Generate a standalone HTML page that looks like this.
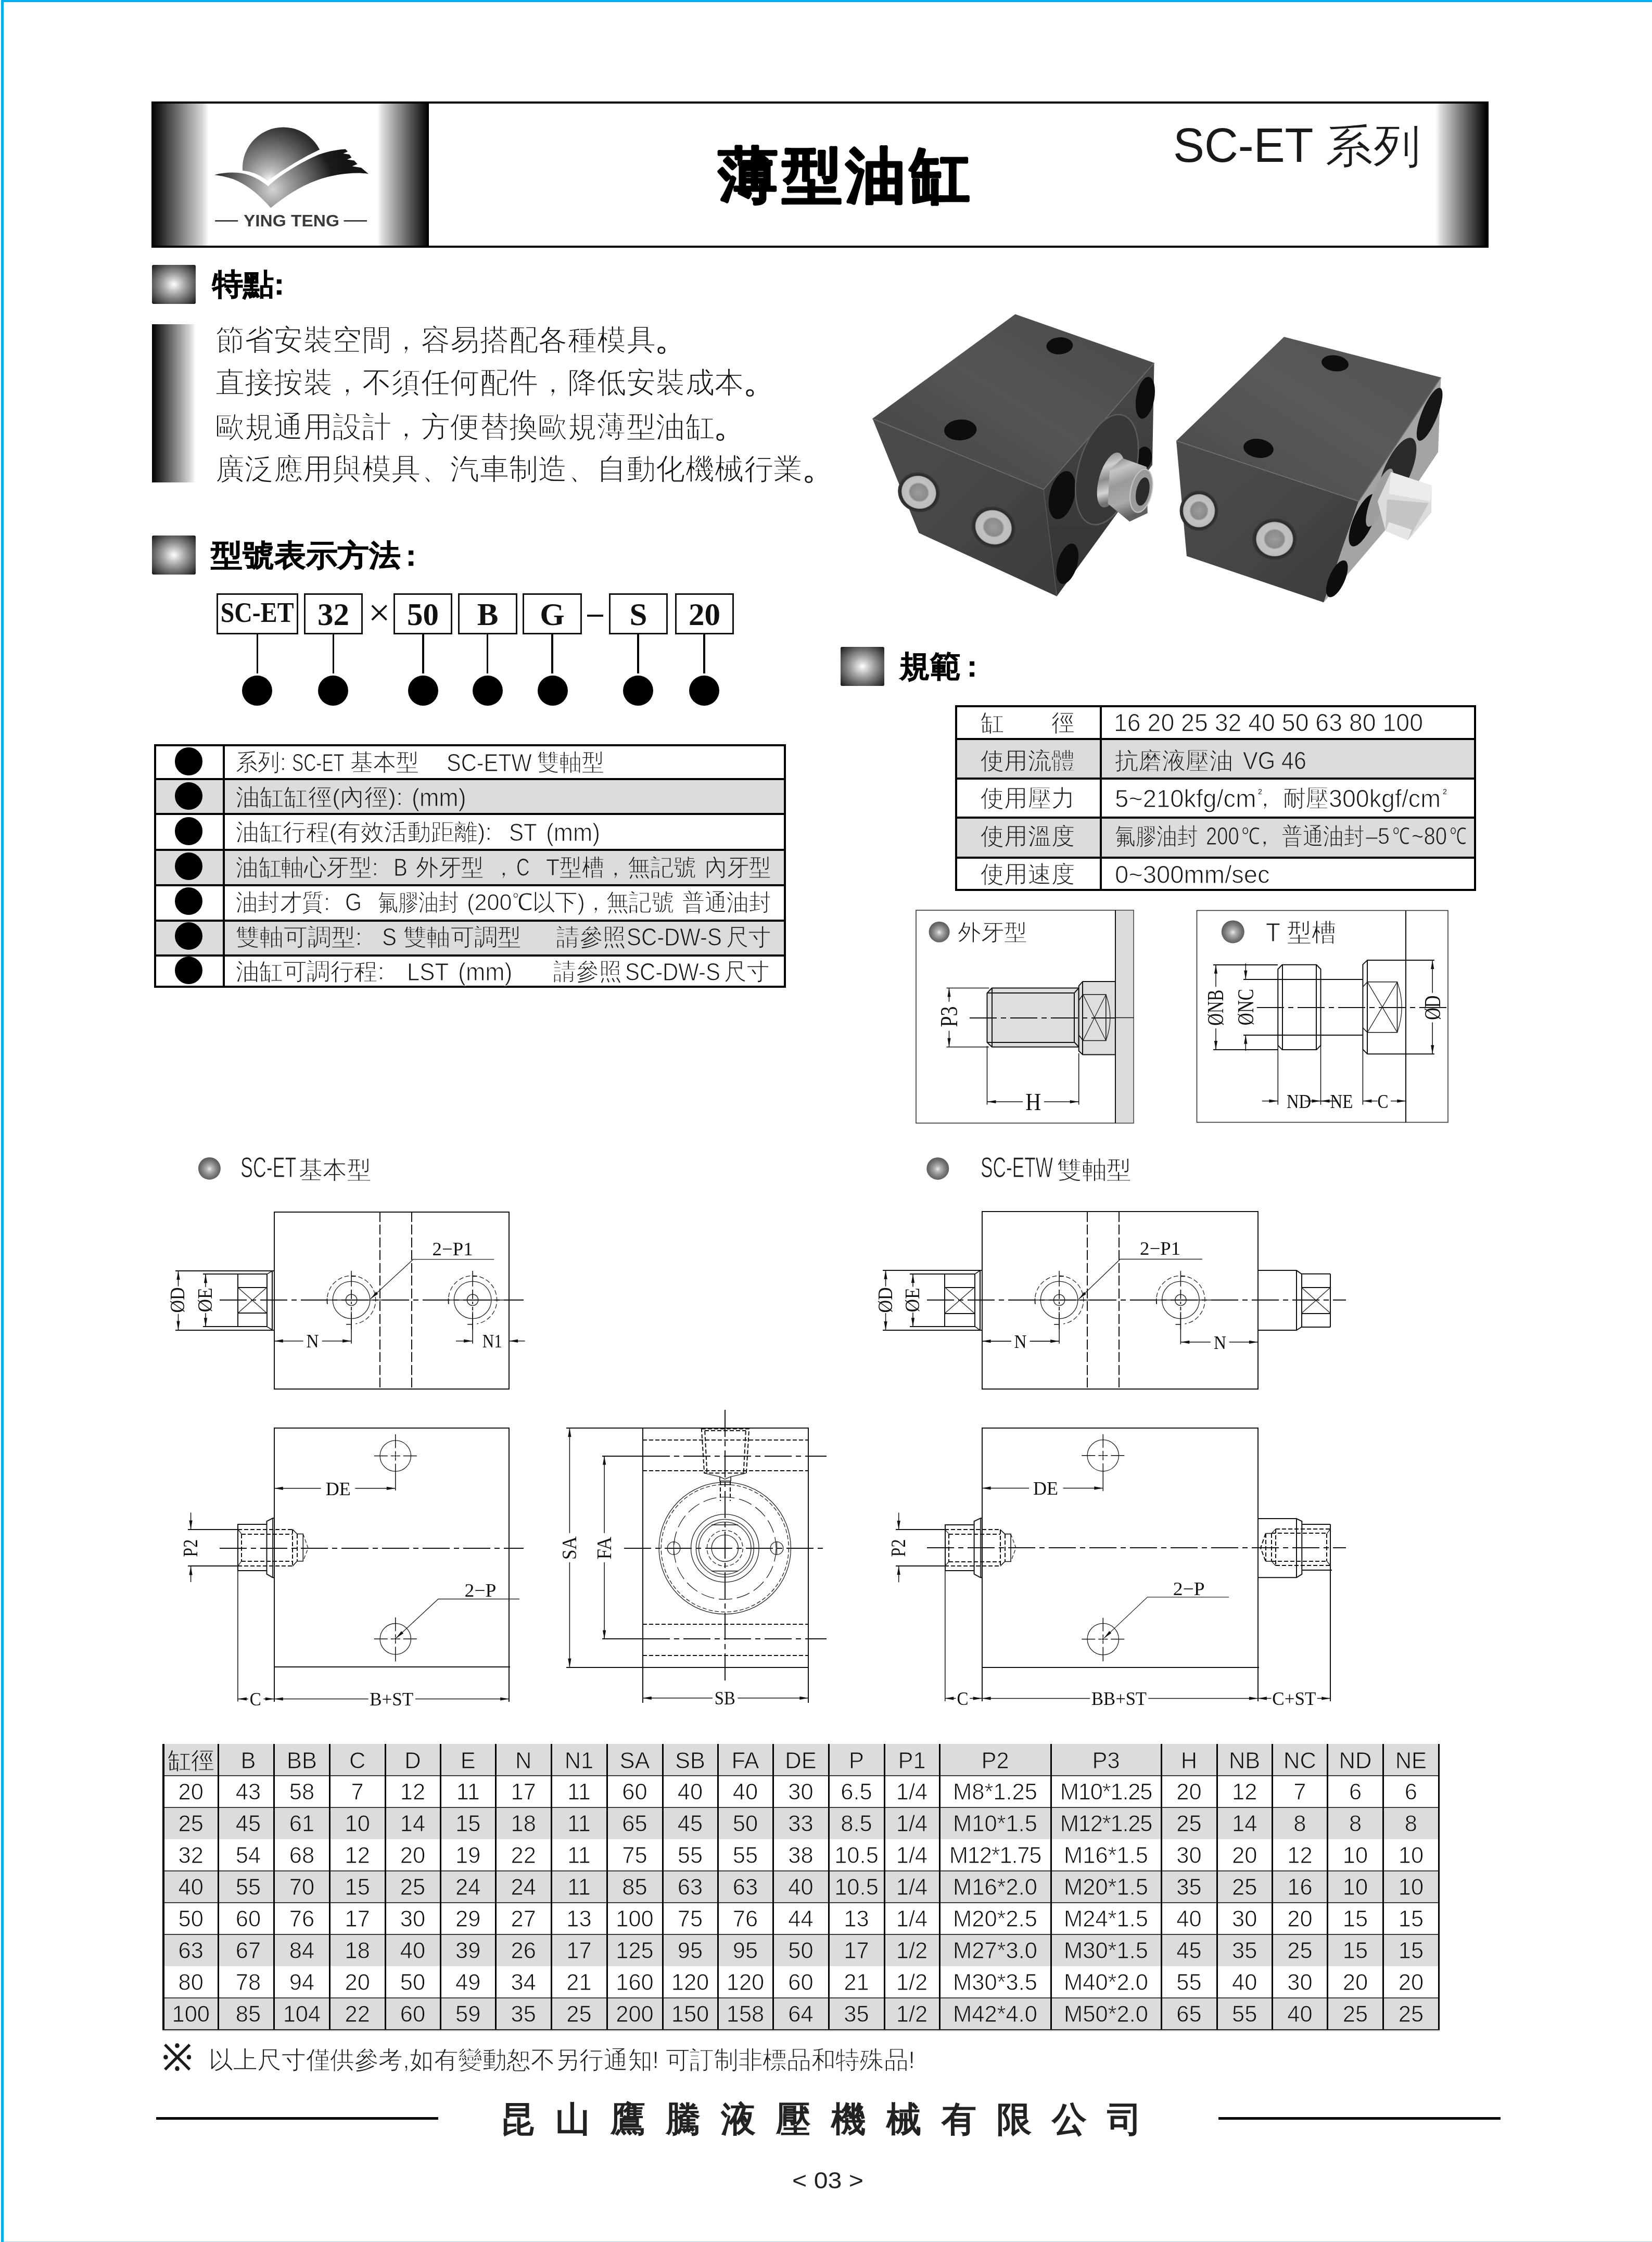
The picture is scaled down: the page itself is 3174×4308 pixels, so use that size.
<!DOCTYPE html>
<html lang="zh-Hant">
<head>
<meta charset="utf-8">
<title>SC-ET 薄型油缸</title>
<style>
html,body{margin:0;padding:0;}
body{width:3174px;height:4308px;position:relative;background:#fff;overflow:hidden;will-change:transform;font-family:"Liberation Sans",sans-serif;color:#1a1a1a;}
.a{position:absolute;white-space:nowrap;}
.lt{-webkit-text-stroke:1px #fff;}
.ltg{-webkit-text-stroke:1px #dcdcdc;}
.cx{display:inline-block;transform-origin:0 50%;}
.cyl{background:#00aeef;}
svg{position:absolute;left:0;top:0;overflow:visible;}
/* header */
#hdr{left:291px;top:195px;width:2569px;height:273px;border-top:4px solid #000;border-bottom:4px solid #000;}
#logo{left:291px;top:199px;width:533px;height:273px;background:linear-gradient(90deg,#000 0,#d9d9d9 18.5%,#fff 20.6%,#fff 81.4%,#d9d9d9 83.4%,#000 100%);}
#hgr{left:2758px;top:199px;width:102px;height:273px;background:linear-gradient(90deg,#fff 0,#d9d9d9 10%,#000 97%,#000 100%);}
#title{left:1372px;top:255px;font-size:122px;line-height:160px;font-weight:900;color:#000;-webkit-text-stroke:4px #000;}
#series{left:2256px;top:225px;font-size:94px;line-height:110px;color:#1a1a1a;}
.sec{width:84px;height:75px;border-radius:3px;background:radial-gradient(ellipse 60px 54px at 50% 50%,#fff 0,#ededed 7%,#a9a9a9 34%,#5c5c5c 68%,#2a2a2a 90%,#0c0c0c 100%);}
.sh{font-weight:900;color:#000;-webkit-text-stroke:.7px #000;}
#fbar{left:292px;top:623px;width:84px;height:304px;background:linear-gradient(90deg,#000 0,#d9d9d9 88%,#fff 100%);}
.ft{left:413.5px;font-size:56px;line-height:82px;letter-spacing:.45px;color:#111;-webkit-text-stroke:1.3px #fff;}
/* model boxes */
.mb{box-sizing:border-box;border:3px solid #111;height:79px;top:1140px;text-align:center;font-family:"Liberation Serif",serif;font-weight:700;font-size:61px;line-height:75px;color:#111;}
.ml{width:3.4px;background:#000;top:1218px;height:76px;}
.dot{width:58px;height:58px;border-radius:50%;background:#000;top:1298px;}
/* table 1 */
.t1r{left:298px;width:1210px;box-sizing:border-box;border-top:4px solid #000;}
.t1t{left:452px;font-size:45px;line-height:60px;color:#111;}
.t1d{left:335.5px;width:53px;height:53px;border-radius:50%;background:#000;}
/* spec table */
.t2t{font-size:45px;line-height:60px;color:#111;}
</style>
</head>
<body>
<!-- page border -->
<div class="a cyl" style="left:2px;top:0;width:5px;height:4308px"></div>
<div class="a cyl" style="left:2px;top:0;width:3172px;height:4px"></div>
<div class="a" style="left:7px;top:4307px;width:3167px;height:1px;background:#8fd9f7"></div>

<!-- header -->
<div class="a" id="hdr"></div>
<div class="a" id="logo"></div>
<div class="a" id="hgr"></div>
<svg width="3174" height="4308" viewBox="0 0 3174 4308"><text x="1380" y="376.5" font-size="115" font-weight="700" letter-spacing="7.5" fill="#000" stroke="#000" stroke-width="3.5" stroke-linejoin="round" style="font-family:'Liberation Sans',sans-serif">薄型油缸</text></svg>

<!-- features -->
<div class="a sec" style="left:292px;top:509px"></div>
<div class="a" id="fbar"></div>
<div class="a ft" style="top:612px">節省安裝空間，容易搭配各種模具<span style="-webkit-text-stroke:0.2px #111;font-size:66px;line-height:0;position:relative;left:-3px;top:1px">。</span></div>
<div class="a ft" style="top:694px">直接按裝，不須任何配件，降低安裝成本<span style="-webkit-text-stroke:0.2px #111;font-size:66px;line-height:0;position:relative;left:-3px;top:1px">。</span></div>
<div class="a ft" style="top:778.5px">歐規通用設計，方便替換歐規薄型油缸<span style="-webkit-text-stroke:0.2px #111;font-size:66px;line-height:0;position:relative;left:-3px;top:1px">。</span></div>
<div class="a ft" style="top:860px">廣泛應用與模具、汽車制造、自動化機械行業<span style="-webkit-text-stroke:0.2px #111;font-size:66px;line-height:0;position:relative;left:-3px;top:1px">。</span></div>

<!-- model designation -->
<div class="a sec" style="left:292px;top:1029px"></div>
<div class="a mb" style="left:416px;width:157px;font-size:54px;line-height:66px"><span class="cx" style="transform:scaleX(.885);transform-origin:48% 50%;position:relative;left:-4.5px;top:.5px">SC-ET</span></div>
<div class="a mb" style="left:584px;width:113px">32</div>
<div class="a" style="left:707.5px;top:1142px;font-family:'Liberation Serif',serif;font-size:75px;line-height:70px;color:#111">×</div>
<div class="a mb" style="left:756px;width:113px">50</div>
<div class="a mb" style="left:880px;width:114px">B</div>
<div class="a mb" style="left:1004px;width:114px">G</div>
<div class="a" style="left:1128px;top:1181px;width:31px;height:3.5px;background:#111"></div>
<div class="a mb" style="left:1170px;width:113px">S</div>
<div class="a mb" style="left:1297px;width:113px">20</div>
<div class="a ml" style="left:492.7px"></div><div class="a dot" style="left:465.4px"></div>
<div class="a ml" style="left:638.5px"></div><div class="a dot" style="left:611.4px"></div>
<div class="a ml" style="left:811.3px"></div><div class="a dot" style="left:784.3px"></div>
<div class="a ml" style="left:935px"></div><div class="a dot" style="left:908.3px"></div>
<div class="a ml" style="left:1059.2px"></div><div class="a dot" style="left:1032.6px"></div>
<div class="a ml" style="left:1224.3px"></div><div class="a dot" style="left:1197px"></div>
<div class="a ml" style="left:1351.2px"></div><div class="a dot" style="left:1323.9px"></div>

<!-- p0_heads.py -->
<span class="a sh" style="left:408.0px;top:509.2px;font-size:57.5px;line-height:75px;transform:scaleX(1.0210);transform-origin:0 50%;">特點:</span><span class="a sh" style="left:405.2px;top:1029.2px;font-size:58px;line-height:75px;transform:scaleX(1.0491);transform-origin:0 50%;">型號表示方法<span style="margin-left:9px">:</span></span><span class="a sh" style="left:1728.0px;top:1241.7px;font-size:58px;line-height:75px;transform:scaleX(1.0217);transform-origin:0 50%;">規範<span style="margin-left:11px">:</span></span>
<!-- p0_series.py -->
<span class="a " style="left:2253.5px;top:219.2px;font-size:92px;line-height:120px;transform:scaleX(0.9764);transform-origin:0 50%;">SC-ET</span><span class="a lt" style="left:2546.0px;top:223.6px;font-size:88px;line-height:114px;transform:scaleX(1.0455);transform-origin:0 50%;">系列</span>
<!-- p2_tables.py -->
<div class="a" style="left:296px;top:1430px;width:1214px;height:468px;box-sizing:border-box;border:4px solid #000"></div>
<div class="a" style="left:300px;top:1497.0px;width:1206px;height:67.0px;background:#dcdcdc"></div>
<div class="a" style="left:300px;top:1632.5px;width:1206px;height:68.1px;background:#dcdcdc"></div>
<div class="a" style="left:300px;top:1769.0px;width:1206px;height:67.0px;background:#dcdcdc"></div>
<div class="a" style="left:298px;top:1495.0px;width:1210px;height:4px;background:#000"></div>
<div class="a" style="left:298px;top:1562.0px;width:1210px;height:4px;background:#000"></div>
<div class="a" style="left:298px;top:1630.5px;width:1210px;height:4px;background:#000"></div>
<div class="a" style="left:298px;top:1698.6px;width:1210px;height:4px;background:#000"></div>
<div class="a" style="left:298px;top:1767.0px;width:1210px;height:4px;background:#000"></div>
<div class="a" style="left:298px;top:1834.0px;width:1210px;height:4px;background:#000"></div>
<div class="a" style="left:428px;top:1432px;width:4px;height:464px;background:#000"></div>
<div class="a" style="left:335.7px;top:1436.4px;width:53.2px;height:53.2px;border-radius:50%;background:#000"></div>
<div class="a" style="left:335.7px;top:1503.0px;width:53.2px;height:53.2px;border-radius:50%;background:#000"></div>
<div class="a" style="left:335.7px;top:1570.4px;width:53.2px;height:53.2px;border-radius:50%;background:#000"></div>
<div class="a" style="left:335.7px;top:1637.6px;width:53.2px;height:53.2px;border-radius:50%;background:#000"></div>
<div class="a" style="left:335.7px;top:1704.8px;width:53.2px;height:53.2px;border-radius:50%;background:#000"></div>
<div class="a" style="left:335.7px;top:1771.7px;width:53.2px;height:53.2px;border-radius:50%;background:#000"></div>
<div class="a" style="left:335.7px;top:1838.3px;width:53.2px;height:53.2px;border-radius:50%;background:#000"></div>
<span class="a lt" style="left:452.6px;top:1436.3px;font-size:45px;line-height:58px;transform:scaleX(0.9442);transform-origin:0 50%;">系列:</span>
<span class="a lt" style="left:561.0px;top:1434.9px;font-size:47.2px;line-height:61px;transform:scaleX(0.7064);transform-origin:0 50%;">SC-ET</span>
<span class="a lt" style="left:673.0px;top:1436.3px;font-size:45px;line-height:58px;transform:scaleX(0.9778);transform-origin:0 50%;">基本型</span>
<span class="a lt" style="left:857.8px;top:1434.9px;font-size:47.2px;line-height:61px;transform:scaleX(0.8796);transform-origin:0 50%;">SC-ETW</span>
<span class="a lt" style="left:1031.7px;top:1436.3px;font-size:45px;line-height:58px;transform:scaleX(0.9563);transform-origin:0 50%;">雙軸型</span>
<span class="a ltg" style="left:452.6px;top:1502.9px;font-size:45px;line-height:58px;transform:scaleX(1.0273);transform-origin:0 50%;">油缸缸徑(內徑):</span>
<span class="a ltg" style="left:791.0px;top:1501.5px;font-size:47.2px;line-height:61px;transform:scaleX(0.9505);transform-origin:0 50%;">(mm)</span>
<span class="a lt" style="left:452.6px;top:1570.3px;font-size:45px;line-height:58px;">油缸行程(有效活動距離):</span>
<span class="a lt" style="left:978.0px;top:1568.9px;font-size:47.2px;line-height:61px;transform:scaleX(0.8904);transform-origin:0 50%;">ST</span>
<span class="a lt" style="left:1049.0px;top:1568.9px;font-size:47.2px;line-height:61px;transform:scaleX(0.9451);transform-origin:0 50%;">(mm)</span>
<span class="a ltg" style="left:452.6px;top:1637.5px;font-size:45px;line-height:58px;transform:scaleX(0.9691);transform-origin:0 50%;">油缸軸心牙型:</span>
<span class="a ltg" style="left:756.0px;top:1636.1px;font-size:47.2px;line-height:61px;transform:scaleX(0.8576);transform-origin:0 50%;">B</span>
<span class="a ltg" style="left:798.8px;top:1637.5px;font-size:45px;line-height:58px;transform:scaleX(0.9674);transform-origin:0 50%;">外牙型</span>
<span class="a ltg" style="left:945.0px;top:1637.5px;font-size:45px;line-height:58px;">，</span>
<span class="a ltg" style="left:992.0px;top:1636.1px;font-size:47.2px;line-height:61px;transform:scaleX(0.7512);transform-origin:0 50%;">C</span>
<span class="a ltg" style="left:1049.0px;top:1637.5px;font-size:45px;line-height:58px;transform:scaleX(0.9515);transform-origin:0 50%;">T型槽</span>
<span class="a ltg" style="left:1160.0px;top:1637.5px;font-size:45px;line-height:58px;">，</span>
<span class="a ltg" style="left:1206.0px;top:1637.5px;font-size:45px;line-height:58px;transform:scaleX(0.9763);transform-origin:0 50%;">無記號</span>
<span class="a ltg" style="left:1354.0px;top:1637.5px;font-size:45px;line-height:58px;transform:scaleX(0.9467);transform-origin:0 50%;">內牙型</span>
<span class="a lt" style="left:452.6px;top:1704.8px;font-size:45px;line-height:58px;transform:scaleX(0.9402);transform-origin:0 50%;">油封才質:</span>
<span class="a lt" style="left:663.0px;top:1703.3px;font-size:47.2px;line-height:61px;transform:scaleX(0.8715);transform-origin:0 50%;">G</span>
<span class="a lt" style="left:726.0px;top:1704.8px;font-size:45px;line-height:58px;transform:scaleX(0.8667);transform-origin:0 50%;">氟膠油封</span>
<span class="a lt" style="left:897.0px;top:1704.8px;font-size:45px;line-height:58px;transform:scaleX(0.9608);transform-origin:0 50%;">(200℃以下)</span>
<span class="a lt" style="left:1122.0px;top:1704.8px;font-size:45px;line-height:58px;">，</span>
<span class="a lt" style="left:1164.7px;top:1704.8px;font-size:45px;line-height:58px;transform:scaleX(0.9652);transform-origin:0 50%;">無記號</span>
<span class="a lt" style="left:1311.0px;top:1704.8px;font-size:45px;line-height:58px;transform:scaleX(0.9489);transform-origin:0 50%;">普通油封</span>
<span class="a ltg" style="left:452.6px;top:1771.6px;font-size:45px;line-height:58px;transform:scaleX(1.0206);transform-origin:0 50%;">雙軸可調型:</span>
<span class="a ltg" style="left:734.0px;top:1770.2px;font-size:47.2px;line-height:61px;transform:scaleX(0.8893);transform-origin:0 50%;">S</span>
<span class="a ltg" style="left:775.0px;top:1771.6px;font-size:45px;line-height:58px;transform:scaleX(1.0080);transform-origin:0 50%;">雙軸可調型</span>
<span class="a ltg" style="left:1068.7px;top:1771.6px;font-size:45px;line-height:58px;transform:scaleX(0.9911);transform-origin:0 50%;">請參照</span>
<span class="a ltg" style="left:1204.0px;top:1770.2px;font-size:47.2px;line-height:61px;transform:scaleX(0.8874);transform-origin:0 50%;">SC-DW-S</span>
<span class="a ltg" style="left:1395.0px;top:1771.6px;font-size:45px;line-height:58px;transform:scaleX(0.9644);transform-origin:0 50%;">尺寸</span>
<span class="a lt" style="left:452.6px;top:1838.2px;font-size:45px;line-height:58px;transform:scaleX(1.0102);transform-origin:0 50%;">油缸可調行程:</span>
<span class="a lt" style="left:781.5px;top:1836.8px;font-size:47.2px;line-height:61px;transform:scaleX(0.9267);transform-origin:0 50%;">LST</span>
<span class="a lt" style="left:880.0px;top:1836.8px;font-size:47.2px;line-height:61px;transform:scaleX(0.9496);transform-origin:0 50%;">(mm)</span>
<span class="a lt" style="left:1063.0px;top:1838.2px;font-size:45px;line-height:58px;transform:scaleX(0.9748);transform-origin:0 50%;">請參照</span>
<span class="a lt" style="left:1201.0px;top:1836.8px;font-size:47.2px;line-height:61px;transform:scaleX(0.8874);transform-origin:0 50%;">SC-DW-S</span>
<span class="a lt" style="left:1391.0px;top:1838.2px;font-size:45px;line-height:58px;transform:scaleX(0.9667);transform-origin:0 50%;">尺寸</span>
<div class="a sec" style="left:1615px;top:1243px"></div>
<div class="a" style="left:1835px;top:1355px;width:1001px;height:356.5px;box-sizing:border-box;border:4px solid #000"></div>
<div class="a" style="left:1839px;top:1419.6px;width:993px;height:76.3px;background:#dcdcdc"></div>
<div class="a" style="left:1839px;top:1571.4px;width:993px;height:76.3px;background:#dcdcdc"></div>
<div class="a" style="left:1837px;top:1417.6px;width:997px;height:4px;background:#000"></div>
<div class="a" style="left:1837px;top:1493.9px;width:997px;height:4px;background:#000"></div>
<div class="a" style="left:1837px;top:1569.4px;width:997px;height:4px;background:#000"></div>
<div class="a" style="left:1837px;top:1645.7px;width:997px;height:4px;background:#000"></div>
<div class="a" style="left:2112.7px;top:1357px;width:4px;height:352px;background:#000"></div>
<span class="a lt" style="left:1884.0px;top:1359.6px;font-size:45px;line-height:58px;">缸</span>
<span class="a lt" style="left:2020.0px;top:1359.6px;font-size:45px;line-height:58px;">徑</span>
<span class="a ltg" style="left:1884.0px;top:1432.6px;font-size:45px;line-height:58px;transform:scaleX(1.0056);transform-origin:0 50%;">使用流體</span>
<span class="a lt" style="left:1884.0px;top:1505.3px;font-size:45px;line-height:58px;transform:scaleX(1.0056);transform-origin:0 50%;">使用壓力</span>
<span class="a ltg" style="left:1884.0px;top:1577.6px;font-size:45px;line-height:58px;transform:scaleX(1.0056);transform-origin:0 50%;">使用溫度</span>
<span class="a lt" style="left:1884.0px;top:1650.9px;font-size:45px;line-height:58px;transform:scaleX(1.0056);transform-origin:0 50%;">使用速度</span>
<span class="a lt" style="left:2139.5px;top:1358.2px;font-size:47.2px;line-height:61px;transform:scaleX(0.9842);transform-origin:0 50%;">16 20 25 32 40 50 63 80 100</span>
<span class="a ltg" style="left:2142.0px;top:1432.6px;font-size:45px;line-height:58px;transform:scaleX(1.0089);transform-origin:0 50%;">抗磨液壓油</span>
<span class="a ltg" style="left:2387.5px;top:1431.2px;font-size:47.2px;line-height:61px;transform:scaleX(0.9112);transform-origin:0 50%;">VG 46</span>
<span class="a lt" style="left:2142.0px;top:1503.9px;font-size:47.2px;line-height:61px;">5~210kfg/cm</span>
<span class="a " style="left:2417.0px;top:1512.4px;font-size:14px;line-height:18px;transform:scaleX(1.0261);transform-origin:0 50%;">2</span>
<span class="a lt" style="left:2408.0px;top:1505.3px;font-size:45px;line-height:58px;">，</span>
<span class="a lt" style="left:2464.8px;top:1505.3px;font-size:45px;line-height:58px;transform:scaleX(0.9800);transform-origin:0 50%;">耐壓</span>
<span class="a lt" style="left:2553.0px;top:1503.9px;font-size:47.2px;line-height:61px;transform:scaleX(0.9876);transform-origin:0 50%;">300kgf/cm</span>
<span class="a " style="left:2771.5px;top:1512.4px;font-size:14px;line-height:18px;transform:scaleX(1.0261);transform-origin:0 50%;">2</span>
<span class="a ltg" style="left:2142.0px;top:1577.6px;font-size:45px;line-height:58px;transform:scaleX(0.8861);transform-origin:0 50%;">氟膠油封</span>
<span class="a ltg" style="left:2317.0px;top:1576.2px;font-size:47.2px;line-height:61px;transform:scaleX(0.8078);transform-origin:0 50%;">200</span>
<span class="a ltg" style="left:2385.0px;top:1577.6px;font-size:45px;line-height:58px;transform:scaleX(0.8000);transform-origin:0 50%;">℃</span>
<span class="a ltg" style="left:2407.0px;top:1577.6px;font-size:45px;line-height:58px;">，</span>
<span class="a ltg" style="left:2463.4px;top:1577.6px;font-size:45px;line-height:58px;transform:scaleX(0.8811);transform-origin:0 50%;">普通油封</span>
<span class="a ltg" style="left:2624.4px;top:1577.6px;font-size:45px;line-height:58px;transform:scaleX(0.9208);transform-origin:0 50%;">–5</span>
<span class="a ltg" style="left:2675.0px;top:1577.6px;font-size:45px;line-height:58px;transform:scaleX(0.7556);transform-origin:0 50%;">℃</span>
<span class="a ltg" style="left:2711.9px;top:1576.2px;font-size:47.2px;line-height:61px;transform:scaleX(0.8508);transform-origin:0 50%;">~80</span>
<span class="a ltg" style="left:2785.0px;top:1577.6px;font-size:45px;line-height:58px;transform:scaleX(0.7333);transform-origin:0 50%;">℃</span>
<span class="a lt" style="left:2142.0px;top:1649.5px;font-size:47.2px;line-height:61px;">0~300mm/sec</span>
<!-- p3_logo.py -->
<svg width="3174" height="4308" viewBox="0 0 3174 4308" style="pointer-events:none">
<defs>
<radialGradient id="gSph" gradientUnits="userSpaceOnUse" cx="610" cy="600" r="560">
<stop offset="0" stop-color="#f6f6f6"/><stop offset=".18" stop-color="#bdbdbf"/><stop offset=".45" stop-color="#88888a"/><stop offset=".75" stop-color="#545456"/><stop offset="1" stop-color="#2c2c2c"/>
</radialGradient>
<radialGradient id="gWing" gradientUnits="userSpaceOnUse" cx="640" cy="690" r="760">
<stop offset="0" stop-color="#d4d4d6"/><stop offset=".2" stop-color="#a2a2a5"/><stop offset=".45" stop-color="#6e6e71"/><stop offset=".68" stop-color="#3a3a3c"/><stop offset=".8" stop-color="#1c1a1b"/><stop offset="1" stop-color="#151314"/>
</radialGradient>
<clipPath id="cSph"><path d="M342,505 Q470,515 590,607 Q850,415 1128,285 L1250,0 L250,0 Z"/></clipPath>
</defs>
<g transform="translate(400,230) scale(0.19370)">
<circle cx="745" cy="480" r="405" fill="url(#gSph)" clip-path="url(#cSph)"/>
<path fill="url(#gWing)" d="M60,548 C170,518 300,515 400,548 C480,575 545,620 595,660 C700,560 900,430 1100,345 C1200,310 1290,297 1360,292 L1385,315 L1340,335 L1400,345 L1422,375 L1378,395 L1448,405 L1480,440 L1428,462 L1518,476 L1590,537 C1450,515 1250,540 1080,600 C900,665 750,770 620,875 C520,760 400,650 250,590 C180,565 110,552 60,548 Z"/>
</g>
<rect x="413.2" y="423" width="44" height="2.8" fill="#3a3a3c"/>
<rect x="660.5" y="423" width="44.5" height="2.8" fill="#3a3a3c"/>
</svg>
<span class="a " style="left:467.8px;top:404.6px;font-size:31px;line-height:40px;transform:scaleX(1.0791);transform-origin:0 50%;font-weight:700;color:#3a3a3c;">YING TENG</span>
<!-- p4_photo.py -->
<svg width="3174" height="4308" viewBox="0 0 3174 4308" style="pointer-events:none">
<defs>
<linearGradient id="pTop" x1="0" y1="1" x2="1" y2="0"><stop offset="0" stop-color="#444"/><stop offset=".5" stop-color="#545454"/><stop offset="1" stop-color="#4a4a4a"/></linearGradient>
<linearGradient id="pTop2" x1="0" y1="1" x2="1" y2="0"><stop offset="0" stop-color="#484848"/><stop offset=".55" stop-color="#5a5a5a"/><stop offset="1" stop-color="#525252"/></linearGradient>
<linearGradient id="pFr" x1="0" y1="0" x2="1" y2="1"><stop offset="0" stop-color="#4c4c4c"/><stop offset=".6" stop-color="#444"/><stop offset="1" stop-color="#3b3b3b"/></linearGradient>
<linearGradient id="pRt" x1="0" y1="0" x2="0" y2="1"><stop offset="0" stop-color="#484848"/><stop offset="1" stop-color="#333"/></linearGradient>
<linearGradient id="pRod" x1="0" y1="0" x2="0.25" y2="1"><stop offset="0" stop-color="#6e6e6e"/><stop offset=".22" stop-color="#c6c6c6"/><stop offset=".45" stop-color="#9a9a9a"/><stop offset=".75" stop-color="#aaa"/><stop offset="1" stop-color="#5e5e5e"/></linearGradient>
<linearGradient id="pCol" x1="0" y1="0" x2="0.25" y2="1"><stop offset="0" stop-color="#7a7a7a"/><stop offset=".3" stop-color="#cfcfcf"/><stop offset=".55" stop-color="#8c8c8c"/><stop offset=".8" stop-color="#d4d4d4"/><stop offset="1" stop-color="#707070"/></linearGradient>
<radialGradient id="pPort"><stop offset="0" stop-color="#9c9c9c"/><stop offset=".42" stop-color="#8a8a8a"/><stop offset=".5" stop-color="#c2c2c2"/><stop offset=".8" stop-color="#bcbcbc"/><stop offset=".85" stop-color="#2a2a2a"/><stop offset="1" stop-color="#383838"/></radialGradient>
<filter id="pBl" x="-5%" y="-5%" width="110%" height="110%"><feGaussianBlur stdDeviation="2"/></filter>
<filter id="pBl2" x="-5%" y="-5%" width="110%" height="110%"><feGaussianBlur stdDeviation="0.8"/></filter>
</defs>
<!-- left block -->
<g transform="translate(1660,590) scale(0.36320)" filter="url(#pBl)">
<polygon points="45,590 950,965 1020,1530 290,1195" fill="url(#pFr)"/>
<polygon points="950,965 1535,295 1525,835 1020,1530" fill="url(#pRt)"/>
<polygon points="800,38 1535,295 950,965 45,590" fill="url(#pTop)"/>
<polyline points="45,590 950,965 1535,295" fill="none" stroke="#6c6c6c" stroke-width="5"/>
<line x1="950" y1="965" x2="1020" y2="1530" stroke="#5a5a5a" stroke-width="4"/>
<ellipse cx="1035" cy="205" rx="70" ry="45" fill="#0c0c0c" transform="rotate(-4 1035 205)"/>
<ellipse cx="510" cy="650" rx="86" ry="55" fill="#0c0c0c" transform="rotate(-4 510 650)"/>
<ellipse cx="290" cy="980" rx="112" ry="104" fill="url(#pPort)" transform="rotate(25 290 980)"/>
<ellipse cx="685" cy="1165" rx="118" ry="108" fill="url(#pPort)" transform="rotate(25 685 1165)"/>
<ellipse cx="1488" cy="480" rx="48" ry="112" fill="#0a0a0a" transform="rotate(10 1488 480)"/>
<ellipse cx="1048" cy="995" rx="66" ry="130" fill="#0a0a0a" transform="rotate(14 1048 995)"/>
<ellipse cx="1076" cy="1358" rx="52" ry="110" fill="#0a0a0a" transform="rotate(16 1076 1358)"/>
<ellipse cx="1480" cy="800" rx="42" ry="62" fill="#0a0a0a" transform="rotate(10 1480 800)"/>
<ellipse cx="1285" cy="860" rx="150" ry="300" fill="#383838" stroke="#5c5c5c" stroke-width="7" transform="rotate(16 1285 860)"/>
<ellipse cx="1305" cy="915" rx="62" ry="150" fill="url(#pCol)" transform="rotate(16 1305 915)"/>
<polygon points="1368,800 1495,845 1500,1090 1405,1135 1290,1040 1300,860" fill="url(#pRod)"/>
<ellipse cx="1467" cy="972" rx="56" ry="116" fill="#9a9a9a" stroke="#c4c4c4" stroke-width="6" transform="rotate(12 1467 972)"/>
<ellipse cx="1474" cy="976" rx="34" ry="76" fill="#2c2c2c" transform="rotate(12 1474 976)"/>
</g>
<!-- right block -->
<g transform="translate(2240,600) scale(0.36320)" filter="url(#pBl)">
<polygon points="55,680 1020,1000 835,1535 110,1290" fill="url(#pFr)"/>
<polygon points="1020,1000 1455,345 1440,740 1180,1130 835,1535" fill="#a4a4a4"/>
<polygon points="625,130 1455,345 1020,1000 55,680" fill="url(#pTop2)"/>
<polyline points="55,680 1020,1000 1455,345" fill="none" stroke="#727272" stroke-width="5"/>
<ellipse cx="895" cy="270" rx="72" ry="42" fill="#0c0c0c" transform="rotate(8 895 270)"/>
<ellipse cx="490" cy="720" rx="80" ry="50" fill="#0c0c0c" transform="rotate(8 490 720)"/>
<ellipse cx="175" cy="1050" rx="102" ry="106" fill="url(#pPort)"/>
<ellipse cx="575" cy="1200" rx="118" ry="110" fill="url(#pPort)"/>
<ellipse cx="1395" cy="540" rx="42" ry="150" fill="#161616" transform="rotate(22 1395 540)"/>
<ellipse cx="1225" cy="840" rx="70" ry="190" fill="#2a2a2a" transform="rotate(24 1225 840)"/>
<ellipse cx="1045" cy="1100" rx="52" ry="150" fill="#101010" transform="rotate(24 1045 1100)"/>
<ellipse cx="905" cy="1410" rx="42" ry="105" fill="#101010" transform="rotate(24 905 1410)"/>
<ellipse cx="1131" cy="981" rx="42" ry="165" fill="#9e9e9e" transform="rotate(22 1131 981)"/>
<polygon points="1191,845 1406,916 1404,1060 1281,1206 1161,1156 1120,1000" fill="#dcdcdc"/>
<polygon points="1191,845 1406,916 1400,1000 1180,960" fill="#ececec"/>
<polygon points="1170,990 1390,1010 1281,1206 1161,1156" fill="#c4c4c4"/>
<polygon points="1180,1110 1300,1150 1281,1206 1161,1156" fill="#e6e6e6"/>
</g>
</svg>
<!-- p5_small.py -->
<svg width="3174" height="4308" viewBox="0 0 3174 4308" style="pointer-events:none">
<style>
.k{fill:none;stroke:#111;stroke-width:2}
.t{fill:none;stroke:#111;stroke-width:1.55}
.u{fill:none;stroke:#222;stroke-width:1.3}
.hd{fill:none;stroke:#111;stroke-width:2;stroke-dasharray:8 4}
.hdk{fill:none;stroke:#111;stroke-width:2;stroke-dasharray:19 5.5}
.cl{fill:none;stroke:#111;stroke-width:2;stroke-dasharray:52 8 10 8}
.cs{fill:none;stroke:#111;stroke-width:1.7;stroke-dasharray:18 5 5 5}
.ah{fill:#111;stroke:none}
.gf{fill:#dedede;stroke:#111;stroke-width:2}
.dt{font-family:"Liberation Serif",serif;fill:#111}
</style>
<defs><radialGradient id="gBul" cx=".5" cy=".52" r=".5"><stop offset="0" stop-color="#ececec"/><stop offset=".25" stop-color="#b4b4b4"/><stop offset=".7" stop-color="#7a7a7a"/><stop offset="1" stop-color="#5c5c5c"/></radialGradient></defs>
<rect x="1760" y="1749" width="418" height="409" fill="none" stroke="#333" stroke-width="1.6"/>
<rect x="2143" y="1749.8" width="34.2" height="407.4" fill="#dcdcdc"/>
<line class="k" x1="2143.0" y1="1748.9" x2="2143.0" y2="2158.0" shape-rendering="crispEdges"/>
<circle class="" cx="1804.6" cy="1790.7" r="20.0" fill="url(#gBul)"/>
<polygon class="gf" points="1896.5,1908.2 1905.7,1898.5 2072.7,1898.5 2072.7,2011.8 1905.7,2011.8 1896.5,2002.9" />
<line class="k" x1="1906.0" y1="1898.5" x2="1906.0" y2="2011.8" shape-rendering="crispEdges"/>
<line class="k" x1="1896.5" y1="1908.0" x2="2064.4" y2="1908.0" shape-rendering="crispEdges"/>
<line class="k" x1="1896.5" y1="2003.0" x2="2064.4" y2="2003.0" shape-rendering="crispEdges"/>
<line class="k" x1="2064.0" y1="1907.7" x2="2064.0" y2="2002.9" shape-rendering="crispEdges"/>
<line class="k" x1="2064.4" y1="1907.7" x2="2072.7" y2="1898.5"/>
<line class="k" x1="2064.4" y1="2002.9" x2="2072.7" y2="2011.8"/>
<polygon class="gf" points="2072.7,1894.3 2080.3,1885.9 2142.9,1885.9 2142.9,2026.5 2080.3,2026.5 2072.7,2019.6" />
<line class="k" x1="2080.0" y1="1885.9" x2="2080.0" y2="2026.5" shape-rendering="crispEdges"/>
<polyline class="t" points="2073.3,1921.6 2080.8,1911.0 2124.8,1911.0 2124.8,1999.5 2080.8,1999.5 2073.3,1989.5" />
<line class="u" x1="2080.8" y1="1911.0" x2="2124.8" y2="1999.5"/>
<line class="u" x1="2080.8" y1="1999.5" x2="2124.8" y2="1911.0"/>
<path class="u" d="M2124.8,1911.0 Q2141.0,1955.5 2124.8,1999.5"/>
<line class="cl" x1="1862.5" y1="1956.0" x2="2142.9" y2="1956.0" shape-rendering="crispEdges"/>
<line class="t" x1="2142.9" y1="1955.5" x2="2178.0" y2="1955.5"/>
<line class="t" x1="1818.5" y1="1898.5" x2="1900.1" y2="1898.5"/>
<line class="t" x1="1818.5" y1="2011.8" x2="1900.1" y2="2011.8"/>
<line class="t" x1="1823.5" y1="1898.5" x2="1823.5" y2="1924.9"/>
<line class="t" x1="1823.5" y1="1980.6" x2="1823.5" y2="2011.8"/>
<polygon class="ah" points="1823.5,1898.5 1820.4,1915.5 1826.6,1915.5"/>
<polygon class="ah" points="1823.5,2011.8 1820.4,1994.8 1826.6,1994.8"/>
<text class="dt" x="1823.5" y="1968.8" font-size="46" text-anchor="middle" textLength="40.0" lengthAdjust="spacingAndGlyphs" transform="rotate(-90 1823.5 1953.6)">P3</text>
<line class="t" x1="1896.5" y1="2009.8" x2="1896.5" y2="2122.6"/>
<line class="t" x1="2072.7" y1="2023.8" x2="2072.7" y2="2122.6"/>
<line class="t" x1="1896.5" y1="2117.0" x2="1965.0" y2="2117.0"/>
<line class="t" x1="2005.9" y1="2117.0" x2="2072.7" y2="2117.0"/>
<polygon class="ah" points="1896.5,2117.0 1913.5,2113.9 1913.5,2120.1"/>
<polygon class="ah" points="2072.7,2117.0 2055.7,2113.9 2055.7,2120.1"/>
<text class="dt" x="1985.3" y="2132.5" font-size="46" text-anchor="middle" textLength="30.0" lengthAdjust="spacingAndGlyphs">H</text>
<rect x="2299.5" y="1749.5" width="482.5" height="407" fill="none" stroke="#333" stroke-width="1.6"/>
<line class="k" x1="2701.0" y1="1749.5" x2="2701.0" y2="2156.5" shape-rendering="crispEdges"/>
<circle class="" cx="2368.8" cy="1790.4" r="22.0" fill="url(#gBul)"/>
<polygon class="k" points="2455.3,1862.2 2463.5,1853.7 2529.3,1853.7 2537.5,1862.2 2537.5,2008.6 2529.3,2017.1 2463.5,2017.1 2455.3,2008.6" />
<line class="k" x1="2464.0" y1="1853.7" x2="2464.0" y2="2017.1" shape-rendering="crispEdges"/>
<line class="k" x1="2529.0" y1="1853.7" x2="2529.0" y2="2017.1" shape-rendering="crispEdges"/>
<line class="t" x1="2455.3" y1="2008.6" x2="2455.3" y2="2122.8"/>
<line class="t" x1="2537.5" y1="2008.6" x2="2537.5" y2="2122.8"/>
<line class="k" x1="2388.6" y1="1882.0" x2="2618.4" y2="1882.0" shape-rendering="crispEdges"/>
<line class="k" x1="2388.6" y1="1989.0" x2="2618.4" y2="1989.0" shape-rendering="crispEdges"/>
<polyline class="k" points="2755.9,1844.9 2627.2,1844.9 2618.4,1853.4 2618.4,2016.4 2627.2,2025.3 2755.9,2025.3" />
<line class="k" x1="2627.0" y1="1844.9" x2="2627.0" y2="2025.3" shape-rendering="crispEdges"/>
<line class="t" x1="2618.4" y1="2016.4" x2="2618.4" y2="2122.8"/>
<polyline class="t" points="2618.4,1896.2 2627.2,1886.8 2684.5,1886.8 2684.5,1983.7 2627.2,1983.7 2618.4,1974.9" />
<line class="u" x1="2627.2" y1="1886.8" x2="2684.5" y2="1983.7"/>
<line class="u" x1="2627.2" y1="1983.7" x2="2684.5" y2="1886.8"/>
<path class="u" d="M2684.5,1886.8 Q2701.8,1935.2 2684.5,1983.7"/>
<line class="cl" x1="2415.4" y1="1936.0" x2="2782.1" y2="1936.0" shape-rendering="crispEdges"/>
<line class="k" x1="2331.3" y1="1854.0" x2="2455.3" y2="1854.0" shape-rendering="crispEdges"/>
<line class="k" x1="2331.3" y1="2017.0" x2="2455.3" y2="2017.0" shape-rendering="crispEdges"/>
<line class="t" x1="2336.0" y1="1853.7" x2="2336.0" y2="1896.2"/>
<line class="t" x1="2336.0" y1="1976.2" x2="2336.0" y2="2017.1"/>
<polygon class="ah" points="2336.0,1853.7 2332.9,1870.7 2339.1,1870.7"/>
<polygon class="ah" points="2336.0,2017.1 2332.9,2000.1 2339.1,2000.1"/>
<text class="dt" x="2335.4" y="1950.7" font-size="44" text-anchor="middle" textLength="69.0" lengthAdjust="spacingAndGlyphs" transform="rotate(-90 2335.4 1936.2)">ØNB</text>
<line class="t" x1="2393.3" y1="1851.2" x2="2393.3" y2="1881.7"/>
<line class="t" x1="2393.3" y1="1988.7" x2="2393.3" y2="2019.0"/>
<polygon class="ah" points="2393.3,1881.7 2390.2,1864.7 2396.4,1864.7"/>
<polygon class="ah" points="2393.3,1988.7 2390.2,2005.7 2396.4,2005.7"/>
<text class="dt" x="2393.3" y="1949.8" font-size="44" text-anchor="middle" textLength="70.0" lengthAdjust="spacingAndGlyphs" transform="rotate(-90 2393.3 1935.2)">ØNC</text>
<line class="t" x1="2752.2" y1="1844.9" x2="2752.2" y2="1907.8"/>
<line class="t" x1="2752.2" y1="1964.5" x2="2752.2" y2="2025.3"/>
<polygon class="ah" points="2752.2,1844.9 2749.1,1861.9 2755.3,1861.9"/>
<polygon class="ah" points="2752.2,2025.3 2749.1,2008.3 2755.3,2008.3"/>
<text class="dt" x="2752.2" y="1950.7" font-size="44" text-anchor="middle" textLength="47.0" lengthAdjust="spacingAndGlyphs" transform="rotate(-90 2752.2 1936.2)">ØD</text>
<line class="t" x1="2424.8" y1="2115.6" x2="2455.3" y2="2115.6"/>
<polygon class="ah" points="2455.3,2115.6 2438.3,2112.5 2438.3,2118.7"/>
<line class="t" x1="2506.6" y1="2115.6" x2="2537.5" y2="2115.6"/>
<polygon class="ah" points="2537.5,2115.6 2520.5,2112.5 2520.5,2118.7"/>
<line class="t" x1="2537.5" y1="2115.6" x2="2569.6" y2="2115.6"/>
<polygon class="ah" points="2537.5,2115.6 2554.5,2112.5 2554.5,2118.7"/>
<line class="t" x1="2618.4" y1="2115.6" x2="2646.7" y2="2115.6"/>
<polygon class="ah" points="2618.4,2115.6 2635.4,2112.5 2635.4,2118.7"/>
<line class="t" x1="2671.9" y1="2115.6" x2="2701.2" y2="2115.6"/>
<polygon class="ah" points="2701.2,2115.6 2684.2,2112.5 2684.2,2118.7"/>
<text class="dt" x="2495.6" y="2129.4" font-size="38" text-anchor="middle" textLength="47.0" lengthAdjust="spacingAndGlyphs">ND</text>
<text class="dt" x="2577.5" y="2129.4" font-size="38" text-anchor="middle" textLength="44.0" lengthAdjust="spacingAndGlyphs">NE</text>
<text class="dt" x="2657.1" y="2129.4" font-size="38" text-anchor="middle" textLength="21.0" lengthAdjust="spacingAndGlyphs">C</text>
</svg>
<span class="a lt" style="left:1839.6px;top:1763.1px;font-size:43px;line-height:56px;transform:scaleX(1.0380);transform-origin:0 50%;">外牙型</span>
<span class="a lt" style="left:2432.0px;top:1760.0px;font-size:49.4px;line-height:64px;transform:scaleX(0.9280);transform-origin:0 50%;">T</span>
<span class="a lt" style="left:2473.0px;top:1761.4px;font-size:48px;line-height:62px;transform:scaleX(0.9792);transform-origin:0 50%;">型槽</span>
<!-- p6_main.py -->
<svg width="3174" height="4308" viewBox="0 0 3174 4308" style="pointer-events:none">
<circle cx="402.4" cy="2245.2" r="21.5" fill="url(#gBul)"/><circle cx="1801.8" cy="2245.4" r="21.5" fill="url(#gBul)"/>
<polygon class="k" points="527.0,2329.0 978.0,2329.0 978.0,2669.0 527.0,2669.0"  shape-rendering="crispEdges"/>
<line class="hdk" x1="730.0" y1="2328.8" x2="730.0" y2="2668.6" shape-rendering="crispEdges"/>
<line class="hdk" x1="791.0" y1="2328.8" x2="791.0" y2="2668.6" shape-rendering="crispEdges"/>
<line class="cl" x1="421.7" y1="2498.0" x2="1006.4" y2="2498.0" shape-rendering="crispEdges"/>
<line class="k" x1="336.9" y1="2442.0" x2="526.8" y2="2442.0" shape-rendering="crispEdges"/>
<line class="k" x1="336.9" y1="2556.0" x2="526.8" y2="2556.0" shape-rendering="crispEdges"/>
<line class="k" x1="389.9" y1="2448.0" x2="512.8" y2="2448.0" shape-rendering="crispEdges"/>
<line class="k" x1="389.9" y1="2549.0" x2="512.8" y2="2549.0" shape-rendering="crispEdges"/>
<line class="k" x1="457.0" y1="2448.3" x2="457.0" y2="2549.2" shape-rendering="crispEdges"/>
<line class="k" x1="513.0" y1="2448.3" x2="513.0" y2="2549.2" shape-rendering="crispEdges"/>
<line class="k" x1="523.0" y1="2441.9" x2="523.0" y2="2555.5" shape-rendering="crispEdges"/>
<line class="t" x1="512.8" y1="2448.3" x2="523.4" y2="2441.9"/>
<line class="t" x1="512.8" y1="2549.2" x2="523.4" y2="2555.5"/>
<line class="k" x1="456.9" y1="2474.0" x2="512.8" y2="2474.0" shape-rendering="crispEdges"/>
<line class="k" x1="456.9" y1="2523.0" x2="512.8" y2="2523.0" shape-rendering="crispEdges"/>
<line class="u" x1="456.9" y1="2473.7" x2="512.8" y2="2523.3"/>
<line class="u" x1="456.9" y1="2523.3" x2="512.8" y2="2473.7"/>
<line class="t" x1="342.5" y1="2441.9" x2="342.5" y2="2471.6"/>
<line class="t" x1="342.5" y1="2524.6" x2="342.5" y2="2555.5"/>
<polygon class="ah" points="342.5,2441.9 339.4,2458.9 345.6,2458.9"/>
<polygon class="ah" points="342.5,2555.5 339.4,2538.5 345.6,2538.5"/>
<text class="dt" x="341.6" y="2510.8" font-size="39" text-anchor="middle" textLength="49.0" lengthAdjust="spacingAndGlyphs" transform="rotate(-90 341.6 2497.9)">ØD</text>
<line class="t" x1="395.0" y1="2448.3" x2="395.0" y2="2472.9"/>
<line class="t" x1="395.0" y1="2522.9" x2="395.0" y2="2549.2"/>
<polygon class="ah" points="395.0,2448.3 391.9,2465.3 398.1,2465.3"/>
<polygon class="ah" points="395.0,2549.2 391.9,2532.2 398.1,2532.2"/>
<text class="dt" x="394.6" y="2510.8" font-size="39" text-anchor="middle" textLength="47.0" lengthAdjust="spacingAndGlyphs" transform="rotate(-90 394.6 2497.9)">ØE</text>
<circle class="u" cx="675.1" cy="2497.9" r="10.7" />
<circle class="u" cx="675.1" cy="2497.9" r="35.8" />
<g style="stroke-dasharray:9 4.5">
<path class="u" d="M629.2,2506.0 A46.6,46.6 0 1 1 683.2,2543.8"/>
</g>
<line class="t" x1="675.1" y1="2441.9" x2="675.1" y2="2471.9"/>
<line class="cs" x1="675.1" y1="2477.9" x2="675.1" y2="2517.9"/>
<line class="t" x1="675.1" y1="2523.9" x2="675.1" y2="2553.9"/>
<line class="t" x1="675.1" y1="2452.4" x2="683.6" y2="2452.4"/>
<line class="t" x1="665.1" y1="2544.7" x2="675.1" y2="2544.7"/>
<line class="t" x1="628.5" y1="2494.9" x2="628.5" y2="2504.9"/>
<line class="t" x1="621.1" y1="2497.9" x2="664.6" y2="2497.9"/>
<line class="t" x1="692.1" y1="2497.9" x2="735.1" y2="2497.9"/>
<circle class="u" cx="908.1" cy="2497.9" r="10.7" />
<circle class="u" cx="908.1" cy="2497.9" r="35.8" />
<g style="stroke-dasharray:9 4.5">
<path class="u" d="M862.2,2506.0 A46.6,46.6 0 1 1 916.2,2543.8"/>
</g>
<line class="t" x1="908.1" y1="2441.9" x2="908.1" y2="2471.9"/>
<line class="cs" x1="908.1" y1="2477.9" x2="908.1" y2="2517.9"/>
<line class="t" x1="908.1" y1="2523.9" x2="908.1" y2="2553.9"/>
<line class="t" x1="908.1" y1="2452.4" x2="916.6" y2="2452.4"/>
<line class="t" x1="898.1" y1="2544.7" x2="908.1" y2="2544.7"/>
<line class="t" x1="861.5" y1="2494.9" x2="861.5" y2="2504.9"/>
<line class="t" x1="854.1" y1="2497.9" x2="897.6" y2="2497.9"/>
<line class="t" x1="925.1" y1="2497.9" x2="968.1" y2="2497.9"/>
<line class="t" x1="675.1" y1="2520.3" x2="675.1" y2="2581.8"/>
<line class="t" x1="908.1" y1="2520.3" x2="908.1" y2="2581.8"/>
<polyline class="u" points="711.9,2495.8 793.7,2419.9 949.2,2419.9" />
<polygon class="ah" points="711.9,2495.8 722.5,2482.1 726.3,2486.2"/>
<text class="dt" x="869.6" y="2411.9" font-size="36" text-anchor="middle" textLength="78.0" lengthAdjust="spacingAndGlyphs">2−P1</text>
<line class="t" x1="526.8" y1="2576.7" x2="582.7" y2="2576.7"/>
<line class="t" x1="618.7" y1="2576.7" x2="675.1" y2="2576.7"/>
<polygon class="ah" points="526.8,2576.7 543.8,2573.6 543.8,2579.8"/>
<polygon class="ah" points="675.1,2576.7 658.1,2573.6 658.1,2579.8"/>
<text class="dt" x="600.5" y="2589.4" font-size="36" text-anchor="middle" textLength="24.0" lengthAdjust="spacingAndGlyphs">N</text>
<line class="t" x1="875.9" y1="2576.7" x2="908.1" y2="2576.7"/>
<polygon class="ah" points="908.1,2576.7 891.1,2573.6 891.1,2579.8"/>
<line class="t" x1="978.1" y1="2576.7" x2="1008.6" y2="2576.7"/>
<polygon class="ah" points="978.1,2576.7 995.1,2573.6 995.1,2579.8"/>
<text class="dt" x="945.8" y="2589.4" font-size="36" text-anchor="middle" textLength="38.0" lengthAdjust="spacingAndGlyphs">N1</text>
<polyline class="k" points="527.0,3270.0 527.0,2744.0 978.0,2744.0 978.0,3270.0"  shape-rendering="crispEdges"/>
<line class="k" x1="526.8" y1="3203.0" x2="980.2" y2="3203.0" shape-rendering="crispEdges"/>
<circle class="u" cx="759.8" cy="2797.5" r="29.7" />
<line class="t" x1="718.8" y1="2797.5" x2="744.8" y2="2797.5"/>
<line class="t" x1="750.8" y1="2797.5" x2="756.8" y2="2797.5"/>
<line class="t" x1="757.3" y1="2797.5" x2="762.3" y2="2797.5"/>
<line class="t" x1="762.8" y1="2797.5" x2="768.8" y2="2797.5"/>
<line class="t" x1="774.8" y1="2797.5" x2="800.8" y2="2797.5"/>
<line class="t" x1="759.8" y1="2756.0" x2="759.8" y2="2782.5"/>
<line class="t" x1="759.8" y1="2788.5" x2="759.8" y2="2794.5"/>
<line class="t" x1="759.8" y1="2795.0" x2="759.8" y2="2800.0"/>
<line class="t" x1="759.8" y1="2800.5" x2="759.8" y2="2806.5"/>
<line class="t" x1="759.8" y1="2812.5" x2="759.8" y2="2864.1"/>
<circle class="u" cx="759.8" cy="3149.2" r="29.7" />
<line class="t" x1="718.8" y1="3149.2" x2="744.8" y2="3149.2"/>
<line class="t" x1="750.8" y1="3149.2" x2="756.8" y2="3149.2"/>
<line class="t" x1="757.3" y1="3149.2" x2="762.3" y2="3149.2"/>
<line class="t" x1="762.8" y1="3149.2" x2="768.8" y2="3149.2"/>
<line class="t" x1="774.8" y1="3149.2" x2="800.8" y2="3149.2"/>
<line class="t" x1="759.8" y1="3107.7" x2="759.8" y2="3134.2"/>
<line class="t" x1="759.8" y1="3140.2" x2="759.8" y2="3146.2"/>
<line class="t" x1="759.8" y1="3146.7" x2="759.8" y2="3151.7"/>
<line class="t" x1="759.8" y1="3152.2" x2="759.8" y2="3158.2"/>
<line class="t" x1="759.8" y1="3164.2" x2="759.8" y2="3192.5"/>
<line class="t" x1="526.8" y1="2859.8" x2="616.6" y2="2859.8"/>
<line class="t" x1="682.3" y1="2859.8" x2="759.8" y2="2859.8"/>
<polygon class="ah" points="526.8,2859.8 543.8,2856.7 543.8,2862.9"/>
<polygon class="ah" points="759.8,2859.8 742.8,2856.7 742.8,2862.9"/>
<text class="dt" x="649.7" y="2872.6" font-size="36" text-anchor="middle" textLength="48.0" lengthAdjust="spacingAndGlyphs">DE</text>
<line class="cl" x1="421.7" y1="2975.0" x2="1006.4" y2="2975.0" shape-rendering="crispEdges"/>
<polyline class="k" points="513.0,2929.0 457.0,2929.0 457.0,3018.0 513.0,3018.0"  shape-rendering="crispEdges"/>
<line class="t" x1="456.9" y1="3017.9" x2="456.9" y2="3269.6"/>
<polygon class="k" points="512.5,2923.2 523.9,2917.3 526.8,2917.3 526.8,3031.2 523.9,3031.2 512.5,3024.6" />
<line class="t" x1="523.8" y1="2917.3" x2="523.8" y2="3031.2"/>
<line class="hd" x1="456.9" y1="2939.0" x2="561.5" y2="2939.0" shape-rendering="crispEdges"/>
<line class="hd" x1="456.9" y1="3009.0" x2="561.5" y2="3009.0" shape-rendering="crispEdges"/>
<line class="hd" x1="464.1" y1="2948.0" x2="561.5" y2="2948.0" shape-rendering="crispEdges"/>
<line class="hd" x1="464.1" y1="3000.0" x2="561.5" y2="3000.0" shape-rendering="crispEdges"/>
<line class="hd" x1="464.0" y1="2947.5" x2="464.0" y2="2999.7" shape-rendering="crispEdges"/>
<line class="hd" x1="562.0" y1="2938.6" x2="562.0" y2="3009.4" shape-rendering="crispEdges"/>
<line class="hd" x1="571.0" y1="2947.5" x2="571.0" y2="2999.7" shape-rendering="crispEdges"/>
<line class="u" x1="456.9" y1="2938.6" x2="464.1" y2="2947.5"/>
<line class="u" x1="456.9" y1="3009.4" x2="464.1" y2="2999.7"/>
<polyline class="t" points="561.9,2938.6 570.8,2947.5 582.3,2947.5 582.3,2999.7 570.8,2999.7 561.9,3009.4" />
<g style="stroke-dasharray:7 4">
<polyline class="u" points="582.3,2947.5 592.0,2974.7 582.3,2999.7" />
</g>
<line class="k" x1="361.1" y1="2939.0" x2="456.9" y2="2939.0" shape-rendering="crispEdges"/>
<line class="k" x1="361.1" y1="3009.0" x2="456.9" y2="3009.0" shape-rendering="crispEdges"/>
<line class="t" x1="366.6" y1="2906.4" x2="366.6" y2="2938.6"/>
<polygon class="ah" points="366.6,2938.6 363.5,2921.6 369.7,2921.6"/>
<line class="t" x1="366.6" y1="3009.4" x2="366.6" y2="3039.9"/>
<polygon class="ah" points="366.6,3009.4 363.5,3026.4 369.7,3026.4"/>
<text class="dt" x="366.2" y="2987.5" font-size="39" text-anchor="middle" textLength="34.0" lengthAdjust="spacingAndGlyphs" transform="rotate(-90 366.2 2974.7)">P2</text>
<line class="t" x1="456.9" y1="3264.5" x2="476.8" y2="3264.5"/>
<line class="t" x1="506.4" y1="3264.5" x2="526.8" y2="3264.5"/>
<polygon class="ah" points="456.9,3264.5 473.9,3261.4 473.9,3267.6"/>
<polygon class="ah" points="526.8,3264.5 509.8,3261.4 509.8,3267.6"/>
<text class="dt" x="490.8" y="3277.2" font-size="36" text-anchor="middle" textLength="22.0" lengthAdjust="spacingAndGlyphs">C</text>
<line class="t" x1="526.8" y1="3264.5" x2="707.7" y2="3264.5"/>
<line class="t" x1="798.0" y1="3264.5" x2="978.1" y2="3264.5"/>
<polygon class="ah" points="526.8,3264.5 543.8,3261.4 543.8,3267.6"/>
<polygon class="ah" points="978.1,3264.5 961.1,3261.4 961.1,3267.6"/>
<text class="dt" x="752.2" y="3277.2" font-size="36" text-anchor="middle" textLength="84.0" lengthAdjust="spacingAndGlyphs">B+ST</text>
<polyline class="u" points="760.7,3148.0 842.0,3072.5 998.0,3072.5" />
<polygon class="ah" points="760.7,3148.0 771.2,3134.3 775.0,3138.4"/>
<text class="dt" x="923.0" y="3067.5" font-size="36" text-anchor="middle" textLength="61.0" lengthAdjust="spacingAndGlyphs">2−P</text>
<polyline class="k" points="1235.0,3272.0 1235.0,2744.0 1553.0,2744.0 1553.0,3272.0"  shape-rendering="crispEdges"/>
<line class="k" x1="1088.1" y1="2744.0" x2="1234.8" y2="2744.0" shape-rendering="crispEdges"/>
<line class="k" x1="1088.1" y1="3204.0" x2="1553.3" y2="3204.0" shape-rendering="crispEdges"/>
<line class="t" x1="1094.4" y1="2743.9" x2="1094.4" y2="2945.8"/>
<line class="t" x1="1094.4" y1="3001.9" x2="1094.4" y2="3203.8"/>
<polygon class="ah" points="1094.4,2743.9 1091.3,2760.9 1097.5,2760.9"/>
<polygon class="ah" points="1094.4,3203.8 1091.3,3186.8 1097.5,3186.8"/>
<text class="dt" x="1094.1" y="2987.4" font-size="39" text-anchor="middle" textLength="45.0" lengthAdjust="spacingAndGlyphs" transform="rotate(-90 1094.1 2974.5)">SA</text>
<line class="k" x1="1156.5" y1="2798.0" x2="1234.8" y2="2798.0" shape-rendering="crispEdges"/>
<line class="k" x1="1156.5" y1="3149.0" x2="1234.8" y2="3149.0" shape-rendering="crispEdges"/>
<line class="cl" x1="1234.8" y1="2798.0" x2="1588.4" y2="2798.0" shape-rendering="crispEdges"/>
<line class="cl" x1="1234.8" y1="3149.0" x2="1588.4" y2="3149.0" shape-rendering="crispEdges"/>
<line class="t" x1="1161.1" y1="2797.6" x2="1161.1" y2="2945.8"/>
<line class="t" x1="1161.1" y1="3001.9" x2="1161.1" y2="3149.4"/>
<polygon class="ah" points="1161.1,2797.6 1158.0,2814.6 1164.2,2814.6"/>
<polygon class="ah" points="1161.1,3149.4 1158.0,3132.4 1164.2,3132.4"/>
<text class="dt" x="1160.8" y="2987.4" font-size="39" text-anchor="middle" textLength="44.0" lengthAdjust="spacingAndGlyphs" transform="rotate(-90 1160.8 2974.5)">FA</text>
<line class="hd" x1="1234.8" y1="2767.0" x2="1553.3" y2="2767.0" shape-rendering="crispEdges"/>
<line class="hd" x1="1234.8" y1="2826.0" x2="1553.3" y2="2826.0" shape-rendering="crispEdges"/>
<line class="hd" x1="1234.8" y1="3121.0" x2="1553.3" y2="3121.0" shape-rendering="crispEdges"/>
<line class="hd" x1="1234.8" y1="3181.0" x2="1553.3" y2="3181.0" shape-rendering="crispEdges"/>
<line class="cl" x1="1198.7" y1="2975.0" x2="1588.4" y2="2975.0" shape-rendering="crispEdges"/>
<line class="cl" x1="1393.0" y1="2708.8" x2="1393.0" y2="3237.2" shape-rendering="crispEdges"/>
<circle class="u" cx="1392.8" cy="2974.9" r="126.7" />
<circle class="u" cx="1392.8" cy="2974.9" r="122.5" stroke-dasharray="8 4"/>
<circle class="u" cx="1392.8" cy="2974.9" r="98.3" stroke-dasharray="26 9"/>
<circle class="u" cx="1392.8" cy="2974.9" r="65.3" />
<circle class="u" cx="1392.8" cy="2974.9" r="55.5" />
<circle class="u" cx="1392.8" cy="2974.9" r="50.2" />
<circle class="u" cx="1392.8" cy="2974.9" r="34.4" stroke-dasharray="8 4"/>
<circle class="u" cx="1392.8" cy="2974.9" r="25.6" />
<line class="t" x1="1367.2" y1="2930.0" x2="1418.1" y2="2930.0"/>
<line class="t" x1="1367.2" y1="3018.8" x2="1418.1" y2="3018.8"/>
<circle class="u" cx="1294.5" cy="2974.9" r="12.3" />
<circle class="u" cx="1492.5" cy="2974.9" r="12.3" />
<line class="u" x1="1294.5" y1="2961.6" x2="1294.5" y2="2987.9"/>
<line class="u" x1="1492.5" y1="2961.6" x2="1492.5" y2="2987.9"/>
<polygon class="hd" points="1347.9,2745.6 1439.2,2745.6 1433.9,2830.6 1353.2,2830.6" />
<polyline class="hd" points="1354.0,2749.0 1433.0,2749.0"  shape-rendering="crispEdges"/>
<line class="hd" x1="1354.2" y1="2749.2" x2="1358.4" y2="2830.6"/>
<line class="hd" x1="1432.9" y1="2749.2" x2="1428.6" y2="2830.6"/>
<polyline class="u" points="1353.2,2830.6 1383.0,2837.6 1392.8,2842.2 1403.4,2837.6 1433.9,2830.6" />
<polyline class="t" points="1383.0,2837.6 1383.0,2845.7 1404.1,2845.7 1404.1,2837.6" />
<line class="hd" x1="1384.0" y1="2845.7" x2="1384.0" y2="2884.3" shape-rendering="crispEdges"/>
<line class="hd" x1="1403.0" y1="2845.7" x2="1403.0" y2="2884.3" shape-rendering="crispEdges"/>
<line class="t" x1="1383.7" y1="2852.7" x2="1403.4" y2="2852.7"/>
<line class="t" x1="1234.8" y1="3262.8" x2="1369.0" y2="3262.8"/>
<line class="t" x1="1417.4" y1="3262.8" x2="1553.3" y2="3262.8"/>
<polygon class="ah" points="1234.8,3262.8 1251.8,3259.7 1251.8,3265.9"/>
<polygon class="ah" points="1553.3,3262.8 1536.3,3259.7 1536.3,3265.9"/>
<text class="dt" x="1392.8" y="3275.4" font-size="36" text-anchor="middle" textLength="40.0" lengthAdjust="spacingAndGlyphs">SB</text>
<polygon class="k" points="1887.0,2328.0 2417.0,2328.0 2417.0,2669.0 1887.0,2669.0"  shape-rendering="crispEdges"/>
<line class="hdk" x1="2089.0" y1="2328.5" x2="2089.0" y2="2668.7" shape-rendering="crispEdges"/>
<line class="hdk" x1="2150.0" y1="2328.5" x2="2150.0" y2="2668.7" shape-rendering="crispEdges"/>
<line class="cl" x1="1781.3" y1="2498.0" x2="2585.9" y2="2498.0" shape-rendering="crispEdges"/>
<line class="k" x1="1695.9" y1="2441.0" x2="1886.6" y2="2441.0" shape-rendering="crispEdges"/>
<line class="k" x1="1695.9" y1="2556.0" x2="1886.6" y2="2556.0" shape-rendering="crispEdges"/>
<line class="k" x1="1748.3" y1="2448.0" x2="1873.5" y2="2448.0" shape-rendering="crispEdges"/>
<line class="k" x1="1748.3" y1="2549.0" x2="1873.5" y2="2549.0" shape-rendering="crispEdges"/>
<line class="k" x1="1815.0" y1="2447.9" x2="1815.0" y2="2549.2" shape-rendering="crispEdges"/>
<line class="k" x1="1873.0" y1="2447.9" x2="1873.0" y2="2549.2" shape-rendering="crispEdges"/>
<line class="k" x1="1883.0" y1="2441.1" x2="1883.0" y2="2556.1" shape-rendering="crispEdges"/>
<line class="t" x1="1873.5" y1="2447.9" x2="1883.1" y2="2441.1"/>
<line class="t" x1="1873.5" y1="2549.2" x2="1883.1" y2="2556.1"/>
<line class="k" x1="1815.4" y1="2474.0" x2="1873.5" y2="2474.0" shape-rendering="crispEdges"/>
<line class="k" x1="1815.4" y1="2524.0" x2="1873.5" y2="2524.0" shape-rendering="crispEdges"/>
<line class="u" x1="1815.4" y1="2473.6" x2="1872.3" y2="2523.6"/>
<line class="u" x1="1815.4" y1="2523.6" x2="1872.3" y2="2473.6"/>
<line class="t" x1="1701.6" y1="2441.1" x2="1701.6" y2="2471.8"/>
<line class="t" x1="1701.6" y1="2523.1" x2="1701.6" y2="2556.1"/>
<polygon class="ah" points="1701.6,2441.1 1698.5,2458.1 1704.7,2458.1"/>
<polygon class="ah" points="1701.6,2556.1 1698.5,2539.1 1704.7,2539.1"/>
<text class="dt" x="1701.1" y="2510.9" font-size="39" text-anchor="middle" textLength="49.0" lengthAdjust="spacingAndGlyphs" transform="rotate(-90 1701.1 2498.0)">ØD</text>
<line class="t" x1="1754.0" y1="2447.9" x2="1754.0" y2="2472.4"/>
<line class="t" x1="1754.0" y1="2521.9" x2="1754.0" y2="2549.2"/>
<polygon class="ah" points="1754.0,2447.9 1750.9,2464.9 1757.1,2464.9"/>
<polygon class="ah" points="1754.0,2549.2 1750.9,2532.2 1757.1,2532.2"/>
<text class="dt" x="1753.4" y="2510.9" font-size="39" text-anchor="middle" textLength="47.0" lengthAdjust="spacingAndGlyphs" transform="rotate(-90 1753.4 2498.0)">ØE</text>
<circle class="u" cx="2035.1" cy="2498.0" r="10.7" />
<circle class="u" cx="2035.1" cy="2498.0" r="35.8" />
<g style="stroke-dasharray:9 4.5">
<path class="u" d="M1989.2,2506.1 A46.6,46.6 0 1 1 2043.2,2543.9"/>
</g>
<line class="t" x1="2035.1" y1="2442.0" x2="2035.1" y2="2472.0"/>
<line class="cs" x1="2035.1" y1="2478.0" x2="2035.1" y2="2518.0"/>
<line class="t" x1="2035.1" y1="2524.0" x2="2035.1" y2="2554.0"/>
<line class="t" x1="2035.1" y1="2452.5" x2="2043.6" y2="2452.5"/>
<line class="t" x1="2025.1" y1="2544.8" x2="2035.1" y2="2544.8"/>
<line class="t" x1="1988.5" y1="2495.0" x2="1988.5" y2="2505.0"/>
<line class="t" x1="1981.1" y1="2498.0" x2="2024.6" y2="2498.0"/>
<line class="t" x1="2052.1" y1="2498.0" x2="2095.1" y2="2498.0"/>
<circle class="u" cx="2268.4" cy="2498.0" r="10.7" />
<circle class="u" cx="2268.4" cy="2498.0" r="35.8" />
<g style="stroke-dasharray:9 4.5">
<path class="u" d="M2222.5,2506.1 A46.6,46.6 0 1 1 2276.5,2543.9"/>
</g>
<line class="t" x1="2268.4" y1="2442.0" x2="2268.4" y2="2472.0"/>
<line class="cs" x1="2268.4" y1="2478.0" x2="2268.4" y2="2518.0"/>
<line class="t" x1="2268.4" y1="2524.0" x2="2268.4" y2="2554.0"/>
<line class="t" x1="2268.4" y1="2452.5" x2="2276.9" y2="2452.5"/>
<line class="t" x1="2258.4" y1="2544.8" x2="2268.4" y2="2544.8"/>
<line class="t" x1="2221.8" y1="2495.0" x2="2221.8" y2="2505.0"/>
<line class="t" x1="2214.4" y1="2498.0" x2="2257.9" y2="2498.0"/>
<line class="t" x1="2285.4" y1="2498.0" x2="2328.4" y2="2498.0"/>
<line class="t" x1="2035.1" y1="2520.8" x2="2035.1" y2="2581.7"/>
<line class="t" x1="2268.4" y1="2520.8" x2="2268.4" y2="2582.8"/>
<polyline class="u" points="2072.6,2496.3 2152.3,2419.5 2309.9,2419.5" />
<polygon class="ah" points="2072.6,2496.3 2082.9,2482.5 2086.8,2486.5"/>
<text class="dt" x="2229.1" y="2410.9" font-size="36" text-anchor="middle" textLength="78.0" lengthAdjust="spacingAndGlyphs">2−P1</text>
<line class="t" x1="1886.6" y1="2577.1" x2="1942.9" y2="2577.1"/>
<line class="t" x1="1978.7" y1="2577.1" x2="2035.1" y2="2577.1"/>
<polygon class="ah" points="1886.6,2577.1 1903.6,2574.0 1903.6,2580.2"/>
<polygon class="ah" points="2035.1,2577.1 2018.1,2574.0 2018.1,2580.2"/>
<text class="dt" x="1960.5" y="2590.1" font-size="36" text-anchor="middle" textLength="24.0" lengthAdjust="spacingAndGlyphs">N</text>
<line class="t" x1="2268.4" y1="2578.8" x2="2325.8" y2="2578.8"/>
<line class="t" x1="2361.7" y1="2578.8" x2="2416.9" y2="2578.8"/>
<polygon class="ah" points="2268.4,2578.8 2285.4,2575.7 2285.4,2581.9"/>
<polygon class="ah" points="2416.9,2578.8 2399.9,2575.7 2399.9,2581.9"/>
<text class="dt" x="2344.0" y="2591.8" font-size="36" text-anchor="middle" textLength="24.0" lengthAdjust="spacingAndGlyphs">N</text>
<polyline class="k" points="2416.9,2441.1 2490.9,2441.1 2500.5,2447.7 2556.3,2447.7" />
<polyline class="k" points="2416.9,2556.1 2490.9,2556.1 2500.5,2549.9 2556.3,2549.9" />
<line class="k" x1="2491.0" y1="2441.1" x2="2491.0" y2="2556.1" shape-rendering="crispEdges"/>
<line class="k" x1="2501.0" y1="2447.7" x2="2501.0" y2="2549.9" shape-rendering="crispEdges"/>
<line class="k" x1="2556.0" y1="2447.7" x2="2556.0" y2="2549.9" shape-rendering="crispEdges"/>
<line class="k" x1="2500.5" y1="2474.0" x2="2556.3" y2="2474.0" shape-rendering="crispEdges"/>
<line class="k" x1="2500.5" y1="2524.0" x2="2556.3" y2="2524.0" shape-rendering="crispEdges"/>
<line class="u" x1="2500.5" y1="2473.8" x2="2556.3" y2="2523.6"/>
<line class="u" x1="2500.5" y1="2523.6" x2="2556.3" y2="2473.8"/>
<polyline class="k" points="1887.0,3269.0 1887.0,2744.0 2417.0,2744.0 2417.0,3269.0"  shape-rendering="crispEdges"/>
<line class="k" x1="1886.6" y1="3204.0" x2="2418.6" y2="3204.0" shape-rendering="crispEdges"/>
<circle class="u" cx="2119.3" cy="2796.8" r="30.2" />
<line class="t" x1="2078.3" y1="2796.8" x2="2104.3" y2="2796.8"/>
<line class="t" x1="2110.3" y1="2796.8" x2="2116.3" y2="2796.8"/>
<line class="t" x1="2116.8" y1="2796.8" x2="2121.8" y2="2796.8"/>
<line class="t" x1="2122.3" y1="2796.8" x2="2128.3" y2="2796.8"/>
<line class="t" x1="2134.3" y1="2796.8" x2="2160.3" y2="2796.8"/>
<line class="t" x1="2119.3" y1="2755.8" x2="2119.3" y2="2781.8"/>
<line class="t" x1="2119.3" y1="2787.8" x2="2119.3" y2="2793.8"/>
<line class="t" x1="2119.3" y1="2794.3" x2="2119.3" y2="2799.3"/>
<line class="t" x1="2119.3" y1="2799.8" x2="2119.3" y2="2805.8"/>
<line class="t" x1="2119.3" y1="2811.8" x2="2119.3" y2="2865.1"/>
<circle class="u" cx="2119.3" cy="3149.6" r="30.2" />
<line class="t" x1="2078.3" y1="3149.6" x2="2104.3" y2="3149.6"/>
<line class="t" x1="2110.3" y1="3149.6" x2="2116.3" y2="3149.6"/>
<line class="t" x1="2116.8" y1="3149.6" x2="2121.8" y2="3149.6"/>
<line class="t" x1="2122.3" y1="3149.6" x2="2128.3" y2="3149.6"/>
<line class="t" x1="2134.3" y1="3149.6" x2="2160.3" y2="3149.6"/>
<line class="t" x1="2119.3" y1="3108.6" x2="2119.3" y2="3134.6"/>
<line class="t" x1="2119.3" y1="3140.6" x2="2119.3" y2="3146.6"/>
<line class="t" x1="2119.3" y1="3147.1" x2="2119.3" y2="3152.1"/>
<line class="t" x1="2119.3" y1="3152.6" x2="2119.3" y2="3158.6"/>
<line class="t" x1="2119.3" y1="3164.6" x2="2119.3" y2="3192.3"/>
<line class="t" x1="1886.6" y1="2859.4" x2="1977.0" y2="2859.4"/>
<line class="t" x1="2042.5" y1="2859.4" x2="2119.3" y2="2859.4"/>
<polygon class="ah" points="1886.6,2859.4 1903.6,2856.3 1903.6,2862.5"/>
<polygon class="ah" points="2119.3,2859.4 2102.3,2856.3 2102.3,2862.5"/>
<text class="dt" x="2008.9" y="2872.4" font-size="36" text-anchor="middle" textLength="48.0" lengthAdjust="spacingAndGlyphs">DE</text>
<line class="cl" x1="1781.3" y1="2974.0" x2="2585.9" y2="2974.0" shape-rendering="crispEdges"/>
<polyline class="k" points="1872.0,2930.0 1816.0,2930.0 1816.0,3018.0 1872.0,3018.0"  shape-rendering="crispEdges"/>
<line class="t" x1="1815.8" y1="3018.2" x2="1815.8" y2="3269.1"/>
<polygon class="k" points="1871.6,2923.1 1883.9,2917.3 1886.6,2917.3 1886.6,3031.3 1883.9,3031.3 1871.6,3024.7" />
<line class="t" x1="1883.8" y1="2917.3" x2="1883.8" y2="3031.3"/>
<line class="hd" x1="1815.4" y1="2939.0" x2="1921.8" y2="2939.0" shape-rendering="crispEdges"/>
<line class="hd" x1="1815.4" y1="3009.0" x2="1921.8" y2="3009.0" shape-rendering="crispEdges"/>
<line class="hd" x1="1823.4" y1="2948.0" x2="1921.8" y2="2948.0" shape-rendering="crispEdges"/>
<line class="hd" x1="1823.4" y1="3001.0" x2="1921.8" y2="3001.0" shape-rendering="crispEdges"/>
<line class="hd" x1="1823.0" y1="2947.6" x2="1823.0" y2="3000.5" shape-rendering="crispEdges"/>
<line class="hd" x1="1922.0" y1="2939.1" x2="1922.0" y2="3009.1" shape-rendering="crispEdges"/>
<line class="hd" x1="1931.0" y1="2947.6" x2="1931.0" y2="3000.5" shape-rendering="crispEdges"/>
<line class="u" x1="1815.4" y1="2939.1" x2="1823.4" y2="2947.6"/>
<line class="u" x1="1815.4" y1="3009.1" x2="1823.4" y2="3000.5"/>
<polyline class="t" points="1921.8,2939.1 1930.7,2947.6 1942.0,2947.6 1942.0,3000.5 1930.7,3000.5 1921.8,3009.1" />
<g style="stroke-dasharray:7 4">
<polyline class="u" points="1942.0,2947.6 1952.0,2974.4 1942.0,3000.5" />
</g>
<line class="k" x1="1721.0" y1="2939.0" x2="1815.4" y2="2939.0" shape-rendering="crispEdges"/>
<line class="k" x1="1721.0" y1="3009.0" x2="1815.4" y2="3009.0" shape-rendering="crispEdges"/>
<line class="t" x1="1726.7" y1="2906.6" x2="1726.7" y2="2939.1"/>
<polygon class="ah" points="1726.7,2939.1 1723.6,2922.1 1729.8,2922.1"/>
<line class="t" x1="1726.7" y1="3009.1" x2="1726.7" y2="3040.4"/>
<polygon class="ah" points="1726.7,3009.1 1723.6,3026.1 1729.8,3026.1"/>
<text class="dt" x="1726.1" y="2987.2" font-size="39" text-anchor="middle" textLength="34.0" lengthAdjust="spacingAndGlyphs" transform="rotate(-90 1726.1 2974.4)">P2</text>
<polyline class="k" points="2416.9,2918.0 2490.9,2918.0 2501.3,2923.1 2501.3,3024.9 2490.9,3031.3 2416.9,3031.3" />
<line class="k" x1="2501.3" y1="2929.0" x2="2556.3" y2="2929.0" shape-rendering="crispEdges"/>
<line class="k" x1="2501.3" y1="3017.0" x2="2558.6" y2="3017.0" shape-rendering="crispEdges"/>
<line class="k" x1="2491.0" y1="2918.0" x2="2491.0" y2="3031.3" shape-rendering="crispEdges"/>
<line class="k" x1="2556.0" y1="2929.4" x2="2556.0" y2="3269.1" shape-rendering="crispEdges"/>
<line class="hd" x1="2451.0" y1="2938.0" x2="2556.3" y2="2938.0" shape-rendering="crispEdges"/>
<line class="hd" x1="2451.0" y1="3008.0" x2="2556.3" y2="3008.0" shape-rendering="crispEdges"/>
<line class="hd" x1="2443.1" y1="2946.0" x2="2549.5" y2="2946.0" shape-rendering="crispEdges"/>
<line class="hd" x1="2443.1" y1="3000.0" x2="2549.5" y2="3000.0" shape-rendering="crispEdges"/>
<line class="hd" x1="2549.0" y1="2946.5" x2="2549.0" y2="3000.0" shape-rendering="crispEdges"/>
<line class="hd" x1="2451.0" y1="2937.9" x2="2451.0" y2="3008.5" shape-rendering="crispEdges"/>
<line class="hd" x1="2443.0" y1="2946.5" x2="2443.0" y2="3000.0" shape-rendering="crispEdges"/>
<line class="u" x1="2556.3" y1="2937.9" x2="2549.5" y2="2946.5"/>
<line class="u" x1="2556.3" y1="3008.5" x2="2549.5" y2="3000.0"/>
<line class="t" x1="2431.7" y1="2946.5" x2="2443.1" y2="2946.5"/>
<line class="t" x1="2431.7" y1="3000.0" x2="2443.1" y2="3000.0"/>
<line class="hd" x1="2432.0" y1="2946.5" x2="2432.0" y2="3000.0" shape-rendering="crispEdges"/>
<line class="u" x1="2443.1" y1="2946.5" x2="2451.0" y2="2937.9"/>
<line class="u" x1="2443.1" y1="3000.0" x2="2451.0" y2="3008.5"/>
<polyline class="hd" points="2431.7,2946.5 2422.0,2974.4 2431.7,3000.0" />
<line class="t" x1="1815.4" y1="3263.4" x2="1836.5" y2="3263.4"/>
<line class="t" x1="1863.2" y1="3263.4" x2="1886.6" y2="3263.4"/>
<polygon class="ah" points="1815.4,3263.4 1832.4,3260.3 1832.4,3266.5"/>
<polygon class="ah" points="1886.6,3263.4 1869.6,3260.3 1869.6,3266.5"/>
<text class="dt" x="1849.6" y="3276.4" font-size="36" text-anchor="middle" textLength="22.0" lengthAdjust="spacingAndGlyphs">C</text>
<line class="t" x1="1886.6" y1="3263.4" x2="2094.2" y2="3263.4"/>
<line class="t" x1="2206.3" y1="3263.4" x2="2416.9" y2="3263.4"/>
<polygon class="ah" points="1886.6,3263.4 1903.6,3260.3 1903.6,3266.5"/>
<polygon class="ah" points="2416.9,3263.4 2399.9,3260.3 2399.9,3266.5"/>
<text class="dt" x="2150.0" y="3276.4" font-size="36" text-anchor="middle" textLength="106.0" lengthAdjust="spacingAndGlyphs">BB+ST</text>
<line class="t" x1="2416.9" y1="3263.4" x2="2442.5" y2="3263.4"/>
<line class="t" x1="2530.7" y1="3263.4" x2="2556.3" y2="3263.4"/>
<polygon class="ah" points="2416.9,3263.4 2433.9,3260.3 2433.9,3266.5"/>
<polygon class="ah" points="2556.3,3263.4 2539.3,3260.3 2539.3,3266.5"/>
<text class="dt" x="2486.3" y="3276.4" font-size="36" text-anchor="middle" textLength="84.0" lengthAdjust="spacingAndGlyphs">C+ST</text>
<polyline class="u" points="2121.0,3147.9 2204.6,3068.8 2361.1,3068.8" />
<polygon class="ah" points="2121.0,3147.9 2131.3,3134.1 2135.2,3138.1"/>
<text class="dt" x="2284.3" y="3064.8" font-size="36" text-anchor="middle" textLength="61.0" lengthAdjust="spacingAndGlyphs">2−P</text>
</svg>
<!-- p7_data.py -->
<div class="a" style="left:312.2px;top:3351.3px;width:2453.7px;height:60.9px;background:#dcdcdc"></div>
<div class="a" style="left:312.2px;top:3473.2px;width:2453.7px;height:60.9px;background:#dcdcdc"></div>
<div class="a" style="left:312.2px;top:3595.1px;width:2453.7px;height:60.9px;background:#dcdcdc"></div>
<div class="a" style="left:312.2px;top:3717.0px;width:2453.7px;height:61.0px;background:#dcdcdc"></div>
<div class="a" style="left:312.2px;top:3838.9px;width:2453.7px;height:61.0px;background:#dcdcdc"></div>
<div class="a" style="left:312.2px;top:3899.0px;width:2453.7px;height:1.6px;background:#2a2a2a"></div>
<div class="a" style="left:312.2px;top:3900.6px;width:2453.7px;height:2px;background:#cfcfcf"></div>
<div class="a" style="left:312.2px;top:3411.4px;width:2453.7px;height:1.6px;background:#3c3c3c"></div>
<div class="a" style="left:312.2px;top:3472.4px;width:2453.7px;height:1.6px;background:#3c3c3c"></div>
<div class="a" style="left:312.2px;top:3594.3px;width:2453.7px;height:1.6px;background:#3c3c3c"></div>
<div class="a" style="left:312.2px;top:3655.2px;width:2453.7px;height:1.6px;background:#3c3c3c"></div>
<div class="a" style="left:312.2px;top:3716.2px;width:2453.7px;height:1.6px;background:#3c3c3c"></div>
<div class="a" style="left:312.2px;top:3838.1px;width:2453.7px;height:1.6px;background:#3c3c3c"></div>
<div class="a" style="left:312.2px;top:3351.3px;width:3.6px;height:548.6px;background:#000"></div>
<div class="a" style="left:418.0px;top:3351.3px;width:3.0px;height:548.6px;background:#000"></div>
<div class="a" style="left:525.1px;top:3351.3px;width:3.0px;height:548.6px;background:#000"></div>
<div class="a" style="left:631.8px;top:3351.3px;width:3.0px;height:548.6px;background:#000"></div>
<div class="a" style="left:738.5px;top:3351.3px;width:3.0px;height:548.6px;background:#000"></div>
<div class="a" style="left:844.5px;top:3351.3px;width:3.0px;height:548.6px;background:#000"></div>
<div class="a" style="left:951.1px;top:3351.3px;width:3.0px;height:548.6px;background:#000"></div>
<div class="a" style="left:1057.5px;top:3351.3px;width:3.0px;height:548.6px;background:#000"></div>
<div class="a" style="left:1164.5px;top:3351.3px;width:3.0px;height:548.6px;background:#000"></div>
<div class="a" style="left:1271.5px;top:3351.3px;width:3.0px;height:548.6px;background:#000"></div>
<div class="a" style="left:1377.5px;top:3351.3px;width:3.0px;height:548.6px;background:#000"></div>
<div class="a" style="left:1483.5px;top:3351.3px;width:3.0px;height:548.6px;background:#000"></div>
<div class="a" style="left:1590.5px;top:3351.3px;width:3.0px;height:548.6px;background:#000"></div>
<div class="a" style="left:1697.5px;top:3351.3px;width:3.0px;height:548.6px;background:#000"></div>
<div class="a" style="left:1803.5px;top:3351.3px;width:3.0px;height:548.6px;background:#000"></div>
<div class="a" style="left:2017.5px;top:3351.3px;width:3.0px;height:548.6px;background:#000"></div>
<div class="a" style="left:2229.5px;top:3351.3px;width:3.0px;height:548.6px;background:#000"></div>
<div class="a" style="left:2336.5px;top:3351.3px;width:3.0px;height:548.6px;background:#000"></div>
<div class="a" style="left:2442.8px;top:3351.3px;width:3.0px;height:548.6px;background:#000"></div>
<div class="a" style="left:2549.1px;top:3351.3px;width:3.0px;height:548.6px;background:#000"></div>
<div class="a" style="left:2655.9px;top:3351.3px;width:3.0px;height:548.6px;background:#000"></div>
<div class="a" style="left:2762.9px;top:3351.3px;width:3.0px;height:548.6px;background:#000"></div>
<style>.dc{position:absolute;text-align:center;font-size:43.5px;line-height:60px;color:#111;white-space:nowrap}.dw{-webkit-text-stroke:.9px #fff}.dg{-webkit-text-stroke:.9px #dcdcdc}</style>
<div class="dc dg" style="left:314.0px;top:3352.5px;width:105.5px;font-size:45px;">缸徑</div>
<div class="dc dg" style="left:423.5px;top:3352.5px;width:107.1px;">B</div>
<div class="dc dg" style="left:526.6px;top:3352.5px;width:106.7px;">BB</div>
<div class="dc dg" style="left:633.3px;top:3352.5px;width:106.7px;">C</div>
<div class="dc dg" style="left:740.0px;top:3352.5px;width:106.0px;">D</div>
<div class="dc dg" style="left:846.0px;top:3352.5px;width:106.6px;">E</div>
<div class="dc dg" style="left:952.6px;top:3352.5px;width:106.4px;">N</div>
<div class="dc dg" style="left:1059.0px;top:3352.5px;width:107.0px;">N1</div>
<div class="dc dg" style="left:1166.0px;top:3352.5px;width:107.0px;">SA</div>
<div class="dc dg" style="left:1273.0px;top:3352.5px;width:106.0px;">SB</div>
<div class="dc dg" style="left:1379.0px;top:3352.5px;width:106.0px;">FA</div>
<div class="dc dg" style="left:1485.0px;top:3352.5px;width:107.0px;">DE</div>
<div class="dc dg" style="left:1592.0px;top:3352.5px;width:107.0px;">P</div>
<div class="dc dg" style="left:1699.0px;top:3352.5px;width:106.0px;">P1</div>
<div class="dc dg" style="left:1805.0px;top:3352.5px;width:214.0px;">P2</div>
<div class="dc dg" style="left:2019.0px;top:3352.5px;width:212.0px;">P3</div>
<div class="dc dg" style="left:2231.0px;top:3352.5px;width:107.0px;">H</div>
<div class="dc dg" style="left:2338.0px;top:3352.5px;width:106.3px;">NB</div>
<div class="dc dg" style="left:2444.3px;top:3352.5px;width:106.3px;">NC</div>
<div class="dc dg" style="left:2550.6px;top:3352.5px;width:106.8px;">ND</div>
<div class="dc dg" style="left:2657.4px;top:3352.5px;width:107.0px;">NE</div>
<div class="dc dw" style="left:314.0px;top:3413.4px;width:105.5px;">20</div>
<div class="dc dw" style="left:423.5px;top:3413.4px;width:107.1px;">43</div>
<div class="dc dw" style="left:526.6px;top:3413.4px;width:106.7px;">58</div>
<div class="dc dw" style="left:633.3px;top:3413.4px;width:106.7px;">7</div>
<div class="dc dw" style="left:740.0px;top:3413.4px;width:106.0px;">12</div>
<div class="dc dw" style="left:846.0px;top:3413.4px;width:106.6px;">11</div>
<div class="dc dw" style="left:952.6px;top:3413.4px;width:106.4px;">17</div>
<div class="dc dw" style="left:1059.0px;top:3413.4px;width:107.0px;">11</div>
<div class="dc dw" style="left:1166.0px;top:3413.4px;width:107.0px;">60</div>
<div class="dc dw" style="left:1273.0px;top:3413.4px;width:106.0px;">40</div>
<div class="dc dw" style="left:1379.0px;top:3413.4px;width:106.0px;">40</div>
<div class="dc dw" style="left:1485.0px;top:3413.4px;width:107.0px;">30</div>
<div class="dc dw" style="left:1592.0px;top:3413.4px;width:107.0px;">6.5</div>
<div class="dc dw" style="left:1699.0px;top:3413.4px;width:106.0px;">1/4</div>
<div class="dc dw" style="left:1805.0px;top:3413.4px;width:214.0px;">M8*1.25</div>
<div class="dc dw" style="left:2019.0px;top:3413.4px;width:212.0px;letter-spacing:-1.2px;">M10*1.25</div>
<div class="dc dw" style="left:2231.0px;top:3413.4px;width:107.0px;">20</div>
<div class="dc dw" style="left:2338.0px;top:3413.4px;width:106.3px;">12</div>
<div class="dc dw" style="left:2444.3px;top:3413.4px;width:106.3px;">7</div>
<div class="dc dw" style="left:2550.6px;top:3413.4px;width:106.8px;">6</div>
<div class="dc dw" style="left:2657.4px;top:3413.4px;width:107.0px;">6</div>
<div class="dc dg" style="left:314.0px;top:3474.4px;width:105.5px;">25</div>
<div class="dc dg" style="left:423.5px;top:3474.4px;width:107.1px;">45</div>
<div class="dc dg" style="left:526.6px;top:3474.4px;width:106.7px;">61</div>
<div class="dc dg" style="left:633.3px;top:3474.4px;width:106.7px;">10</div>
<div class="dc dg" style="left:740.0px;top:3474.4px;width:106.0px;">14</div>
<div class="dc dg" style="left:846.0px;top:3474.4px;width:106.6px;">15</div>
<div class="dc dg" style="left:952.6px;top:3474.4px;width:106.4px;">18</div>
<div class="dc dg" style="left:1059.0px;top:3474.4px;width:107.0px;">11</div>
<div class="dc dg" style="left:1166.0px;top:3474.4px;width:107.0px;">65</div>
<div class="dc dg" style="left:1273.0px;top:3474.4px;width:106.0px;">45</div>
<div class="dc dg" style="left:1379.0px;top:3474.4px;width:106.0px;">50</div>
<div class="dc dg" style="left:1485.0px;top:3474.4px;width:107.0px;">33</div>
<div class="dc dg" style="left:1592.0px;top:3474.4px;width:107.0px;">8.5</div>
<div class="dc dg" style="left:1699.0px;top:3474.4px;width:106.0px;">1/4</div>
<div class="dc dg" style="left:1805.0px;top:3474.4px;width:214.0px;">M10*1.5</div>
<div class="dc dg" style="left:2019.0px;top:3474.4px;width:212.0px;letter-spacing:-1.2px;">M12*1.25</div>
<div class="dc dg" style="left:2231.0px;top:3474.4px;width:107.0px;">25</div>
<div class="dc dg" style="left:2338.0px;top:3474.4px;width:106.3px;">14</div>
<div class="dc dg" style="left:2444.3px;top:3474.4px;width:106.3px;">8</div>
<div class="dc dg" style="left:2550.6px;top:3474.4px;width:106.8px;">8</div>
<div class="dc dg" style="left:2657.4px;top:3474.4px;width:107.0px;">8</div>
<div class="dc dw" style="left:314.0px;top:3535.3px;width:105.5px;">32</div>
<div class="dc dw" style="left:423.5px;top:3535.3px;width:107.1px;">54</div>
<div class="dc dw" style="left:526.6px;top:3535.3px;width:106.7px;">68</div>
<div class="dc dw" style="left:633.3px;top:3535.3px;width:106.7px;">12</div>
<div class="dc dw" style="left:740.0px;top:3535.3px;width:106.0px;">20</div>
<div class="dc dw" style="left:846.0px;top:3535.3px;width:106.6px;">19</div>
<div class="dc dw" style="left:952.6px;top:3535.3px;width:106.4px;">22</div>
<div class="dc dw" style="left:1059.0px;top:3535.3px;width:107.0px;">11</div>
<div class="dc dw" style="left:1166.0px;top:3535.3px;width:107.0px;">75</div>
<div class="dc dw" style="left:1273.0px;top:3535.3px;width:106.0px;">55</div>
<div class="dc dw" style="left:1379.0px;top:3535.3px;width:106.0px;">55</div>
<div class="dc dw" style="left:1485.0px;top:3535.3px;width:107.0px;">38</div>
<div class="dc dw" style="left:1592.0px;top:3535.3px;width:107.0px;">10.5</div>
<div class="dc dw" style="left:1699.0px;top:3535.3px;width:106.0px;">1/4</div>
<div class="dc dw" style="left:1805.0px;top:3535.3px;width:214.0px;letter-spacing:-1.2px;">M12*1.75</div>
<div class="dc dw" style="left:2019.0px;top:3535.3px;width:212.0px;">M16*1.5</div>
<div class="dc dw" style="left:2231.0px;top:3535.3px;width:107.0px;">30</div>
<div class="dc dw" style="left:2338.0px;top:3535.3px;width:106.3px;">20</div>
<div class="dc dw" style="left:2444.3px;top:3535.3px;width:106.3px;">12</div>
<div class="dc dw" style="left:2550.6px;top:3535.3px;width:106.8px;">10</div>
<div class="dc dw" style="left:2657.4px;top:3535.3px;width:107.0px;">10</div>
<div class="dc dg" style="left:314.0px;top:3596.3px;width:105.5px;">40</div>
<div class="dc dg" style="left:423.5px;top:3596.3px;width:107.1px;">55</div>
<div class="dc dg" style="left:526.6px;top:3596.3px;width:106.7px;">70</div>
<div class="dc dg" style="left:633.3px;top:3596.3px;width:106.7px;">15</div>
<div class="dc dg" style="left:740.0px;top:3596.3px;width:106.0px;">25</div>
<div class="dc dg" style="left:846.0px;top:3596.3px;width:106.6px;">24</div>
<div class="dc dg" style="left:952.6px;top:3596.3px;width:106.4px;">24</div>
<div class="dc dg" style="left:1059.0px;top:3596.3px;width:107.0px;">11</div>
<div class="dc dg" style="left:1166.0px;top:3596.3px;width:107.0px;">85</div>
<div class="dc dg" style="left:1273.0px;top:3596.3px;width:106.0px;">63</div>
<div class="dc dg" style="left:1379.0px;top:3596.3px;width:106.0px;">63</div>
<div class="dc dg" style="left:1485.0px;top:3596.3px;width:107.0px;">40</div>
<div class="dc dg" style="left:1592.0px;top:3596.3px;width:107.0px;">10.5</div>
<div class="dc dg" style="left:1699.0px;top:3596.3px;width:106.0px;">1/4</div>
<div class="dc dg" style="left:1805.0px;top:3596.3px;width:214.0px;">M16*2.0</div>
<div class="dc dg" style="left:2019.0px;top:3596.3px;width:212.0px;">M20*1.5</div>
<div class="dc dg" style="left:2231.0px;top:3596.3px;width:107.0px;">35</div>
<div class="dc dg" style="left:2338.0px;top:3596.3px;width:106.3px;">25</div>
<div class="dc dg" style="left:2444.3px;top:3596.3px;width:106.3px;">16</div>
<div class="dc dg" style="left:2550.6px;top:3596.3px;width:106.8px;">10</div>
<div class="dc dg" style="left:2657.4px;top:3596.3px;width:107.0px;">10</div>
<div class="dc dw" style="left:314.0px;top:3657.2px;width:105.5px;">50</div>
<div class="dc dw" style="left:423.5px;top:3657.2px;width:107.1px;">60</div>
<div class="dc dw" style="left:526.6px;top:3657.2px;width:106.7px;">76</div>
<div class="dc dw" style="left:633.3px;top:3657.2px;width:106.7px;">17</div>
<div class="dc dw" style="left:740.0px;top:3657.2px;width:106.0px;">30</div>
<div class="dc dw" style="left:846.0px;top:3657.2px;width:106.6px;">29</div>
<div class="dc dw" style="left:952.6px;top:3657.2px;width:106.4px;">27</div>
<div class="dc dw" style="left:1059.0px;top:3657.2px;width:107.0px;">13</div>
<div class="dc dw" style="left:1166.0px;top:3657.2px;width:107.0px;">100</div>
<div class="dc dw" style="left:1273.0px;top:3657.2px;width:106.0px;">75</div>
<div class="dc dw" style="left:1379.0px;top:3657.2px;width:106.0px;">76</div>
<div class="dc dw" style="left:1485.0px;top:3657.2px;width:107.0px;">44</div>
<div class="dc dw" style="left:1592.0px;top:3657.2px;width:107.0px;">13</div>
<div class="dc dw" style="left:1699.0px;top:3657.2px;width:106.0px;">1/4</div>
<div class="dc dw" style="left:1805.0px;top:3657.2px;width:214.0px;">M20*2.5</div>
<div class="dc dw" style="left:2019.0px;top:3657.2px;width:212.0px;">M24*1.5</div>
<div class="dc dw" style="left:2231.0px;top:3657.2px;width:107.0px;">40</div>
<div class="dc dw" style="left:2338.0px;top:3657.2px;width:106.3px;">30</div>
<div class="dc dw" style="left:2444.3px;top:3657.2px;width:106.3px;">20</div>
<div class="dc dw" style="left:2550.6px;top:3657.2px;width:106.8px;">15</div>
<div class="dc dw" style="left:2657.4px;top:3657.2px;width:107.0px;">15</div>
<div class="dc dg" style="left:314.0px;top:3718.2px;width:105.5px;">63</div>
<div class="dc dg" style="left:423.5px;top:3718.2px;width:107.1px;">67</div>
<div class="dc dg" style="left:526.6px;top:3718.2px;width:106.7px;">84</div>
<div class="dc dg" style="left:633.3px;top:3718.2px;width:106.7px;">18</div>
<div class="dc dg" style="left:740.0px;top:3718.2px;width:106.0px;">40</div>
<div class="dc dg" style="left:846.0px;top:3718.2px;width:106.6px;">39</div>
<div class="dc dg" style="left:952.6px;top:3718.2px;width:106.4px;">26</div>
<div class="dc dg" style="left:1059.0px;top:3718.2px;width:107.0px;">17</div>
<div class="dc dg" style="left:1166.0px;top:3718.2px;width:107.0px;">125</div>
<div class="dc dg" style="left:1273.0px;top:3718.2px;width:106.0px;">95</div>
<div class="dc dg" style="left:1379.0px;top:3718.2px;width:106.0px;">95</div>
<div class="dc dg" style="left:1485.0px;top:3718.2px;width:107.0px;">50</div>
<div class="dc dg" style="left:1592.0px;top:3718.2px;width:107.0px;">17</div>
<div class="dc dg" style="left:1699.0px;top:3718.2px;width:106.0px;">1/2</div>
<div class="dc dg" style="left:1805.0px;top:3718.2px;width:214.0px;">M27*3.0</div>
<div class="dc dg" style="left:2019.0px;top:3718.2px;width:212.0px;">M30*1.5</div>
<div class="dc dg" style="left:2231.0px;top:3718.2px;width:107.0px;">45</div>
<div class="dc dg" style="left:2338.0px;top:3718.2px;width:106.3px;">35</div>
<div class="dc dg" style="left:2444.3px;top:3718.2px;width:106.3px;">25</div>
<div class="dc dg" style="left:2550.6px;top:3718.2px;width:106.8px;">15</div>
<div class="dc dg" style="left:2657.4px;top:3718.2px;width:107.0px;">15</div>
<div class="dc dw" style="left:314.0px;top:3779.2px;width:105.5px;">80</div>
<div class="dc dw" style="left:423.5px;top:3779.2px;width:107.1px;">78</div>
<div class="dc dw" style="left:526.6px;top:3779.2px;width:106.7px;">94</div>
<div class="dc dw" style="left:633.3px;top:3779.2px;width:106.7px;">20</div>
<div class="dc dw" style="left:740.0px;top:3779.2px;width:106.0px;">50</div>
<div class="dc dw" style="left:846.0px;top:3779.2px;width:106.6px;">49</div>
<div class="dc dw" style="left:952.6px;top:3779.2px;width:106.4px;">34</div>
<div class="dc dw" style="left:1059.0px;top:3779.2px;width:107.0px;">21</div>
<div class="dc dw" style="left:1166.0px;top:3779.2px;width:107.0px;">160</div>
<div class="dc dw" style="left:1273.0px;top:3779.2px;width:106.0px;">120</div>
<div class="dc dw" style="left:1379.0px;top:3779.2px;width:106.0px;">120</div>
<div class="dc dw" style="left:1485.0px;top:3779.2px;width:107.0px;">60</div>
<div class="dc dw" style="left:1592.0px;top:3779.2px;width:107.0px;">21</div>
<div class="dc dw" style="left:1699.0px;top:3779.2px;width:106.0px;">1/2</div>
<div class="dc dw" style="left:1805.0px;top:3779.2px;width:214.0px;">M30*3.5</div>
<div class="dc dw" style="left:2019.0px;top:3779.2px;width:212.0px;">M40*2.0</div>
<div class="dc dw" style="left:2231.0px;top:3779.2px;width:107.0px;">55</div>
<div class="dc dw" style="left:2338.0px;top:3779.2px;width:106.3px;">40</div>
<div class="dc dw" style="left:2444.3px;top:3779.2px;width:106.3px;">30</div>
<div class="dc dw" style="left:2550.6px;top:3779.2px;width:106.8px;">20</div>
<div class="dc dw" style="left:2657.4px;top:3779.2px;width:107.0px;">20</div>
<div class="dc dg" style="left:314.0px;top:3840.1px;width:105.5px;">100</div>
<div class="dc dg" style="left:423.5px;top:3840.1px;width:107.1px;">85</div>
<div class="dc dg" style="left:526.6px;top:3840.1px;width:106.7px;">104</div>
<div class="dc dg" style="left:633.3px;top:3840.1px;width:106.7px;">22</div>
<div class="dc dg" style="left:740.0px;top:3840.1px;width:106.0px;">60</div>
<div class="dc dg" style="left:846.0px;top:3840.1px;width:106.6px;">59</div>
<div class="dc dg" style="left:952.6px;top:3840.1px;width:106.4px;">35</div>
<div class="dc dg" style="left:1059.0px;top:3840.1px;width:107.0px;">25</div>
<div class="dc dg" style="left:1166.0px;top:3840.1px;width:107.0px;">200</div>
<div class="dc dg" style="left:1273.0px;top:3840.1px;width:106.0px;">150</div>
<div class="dc dg" style="left:1379.0px;top:3840.1px;width:106.0px;">158</div>
<div class="dc dg" style="left:1485.0px;top:3840.1px;width:107.0px;">64</div>
<div class="dc dg" style="left:1592.0px;top:3840.1px;width:107.0px;">35</div>
<div class="dc dg" style="left:1699.0px;top:3840.1px;width:106.0px;">1/2</div>
<div class="dc dg" style="left:1805.0px;top:3840.1px;width:214.0px;">M42*4.0</div>
<div class="dc dg" style="left:2019.0px;top:3840.1px;width:212.0px;">M50*2.0</div>
<div class="dc dg" style="left:2231.0px;top:3840.1px;width:107.0px;">65</div>
<div class="dc dg" style="left:2338.0px;top:3840.1px;width:106.3px;">55</div>
<div class="dc dg" style="left:2444.3px;top:3840.1px;width:106.3px;">40</div>
<div class="dc dg" style="left:2550.6px;top:3840.1px;width:106.8px;">25</div>
<div class="dc dg" style="left:2657.4px;top:3840.1px;width:107.0px;">25</div>
<span class="a lt" style="left:461.5px;top:2207.2px;font-size:55px;line-height:72px;transform:scaleX(0.6515);transform-origin:0 50%;">SC-ET</span>
<span class="a lt" style="left:573.5px;top:2216.9px;font-size:47px;line-height:61px;transform:scaleX(0.9858);transform-origin:0 50%;">基本型</span>
<span class="a lt" style="left:1884.0px;top:2207.2px;font-size:55px;line-height:72px;transform:scaleX(0.6408);transform-origin:0 50%;">SC-ETW</span>
<span class="a lt" style="left:2031.0px;top:2216.9px;font-size:47px;line-height:61px;transform:scaleX(1.0142);transform-origin:0 50%;">雙軸型</span>
<span class="a " style="left:311.0px;top:3907.6px;font-size:71px;line-height:92px;-webkit-text-stroke:.6px #111;">※</span>
<span class="a lt" style="left:401.0px;top:3927.9px;font-size:46.5px;line-height:60px;transform:scaleX(0.9922);transform-origin:0 50%;">以上尺寸僅供參考,如有變動恕不另行通知! 可訂制非標品和特殊品!</span>
<div class="a" style="left:300px;top:4067.5px;width:542px;height:5px;background:#000"></div>
<div class="a" style="left:2341px;top:4067.5px;width:542px;height:5px;background:#000"></div>
<span class="a " style="left:960.9px;top:4028.0px;font-size:67px;line-height:87px;font-weight:700;letter-spacing:39px;color:#222;">昆山鷹騰液壓機械有限公司</span>
<span class="a " style="left:1522.0px;top:4160.8px;font-size:44px;line-height:57px;transform:scaleX(1.0979);transform-origin:0 50%;color:#222;">&lt; 03 &gt;</span>
</body>
</html>
